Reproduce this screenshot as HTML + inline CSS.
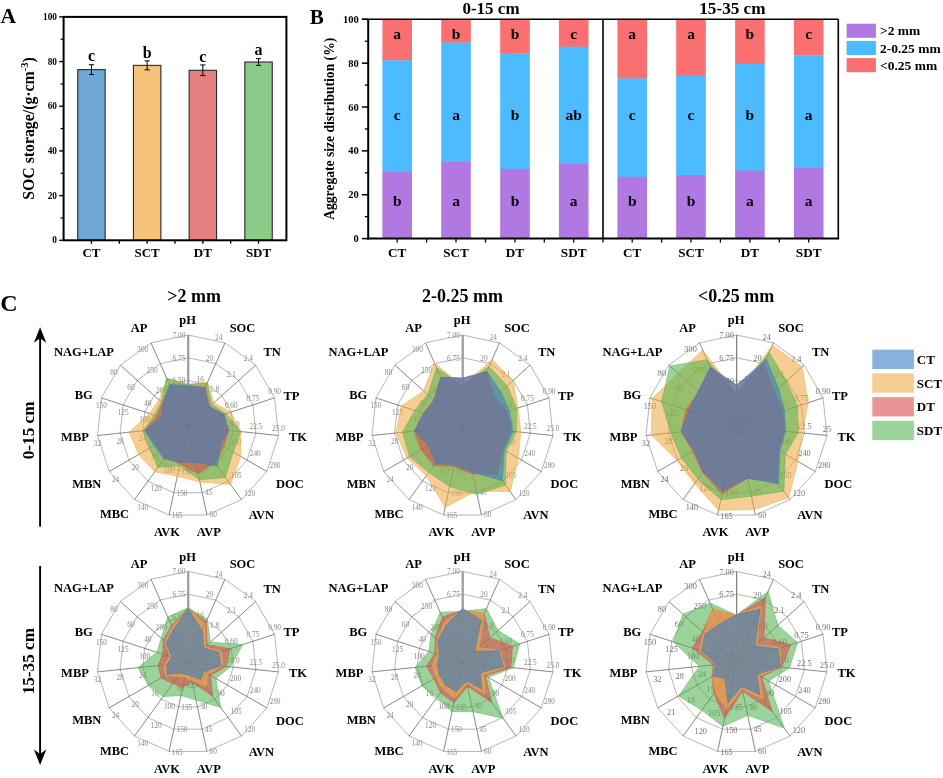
<!DOCTYPE html>
<html lang="en">
<head>
<meta charset="utf-8">
<title>Figure: SOC storage, aggregate size distribution and radar charts</title>
<style>
html,body{margin:0;padding:0;background:#fff;}
body{width:943px;height:778px;overflow:hidden;}
svg{display:block;font-family:"Liberation Serif",serif;}
</style>
</head>
<body>
<svg width="943" height="778" viewBox="0 0 943 778">
<rect x="0" y="0" width="943" height="778" fill="#ffffff"/>
<text x="0.6" y="23.4" font-size="21.5" text-anchor="start" font-weight="bold" fill="#000">A</text>
<rect x="77.75" y="69.62" width="27.4" height="170.68" fill="#6fa8d6" stroke="#2a2a2a" stroke-width="1.1"/>
<line x1="91.45" y1="74.54" x2="91.45" y2="64.71" stroke="#000" stroke-width="1"/>
<line x1="88.85" y1="64.71" x2="94.05" y2="64.71" stroke="#000" stroke-width="1"/>
<line x1="88.85" y1="74.54" x2="94.05" y2="74.54" stroke="#000" stroke-width="1"/>
<text x="91.45" y="61.31" font-size="16" text-anchor="middle" font-weight="bold" fill="#000">c</text>
<text x="91.45" y="257.3" font-size="13" text-anchor="middle" font-weight="bold" fill="#000">CT</text>
<rect x="133.45" y="65.38" width="27.4" height="174.92" fill="#f5c27a" stroke="#2a2a2a" stroke-width="1.1"/>
<line x1="147.15" y1="69.85" x2="147.15" y2="60.91" stroke="#000" stroke-width="1"/>
<line x1="144.55" y1="60.91" x2="149.75" y2="60.91" stroke="#000" stroke-width="1"/>
<line x1="144.55" y1="69.85" x2="149.75" y2="69.85" stroke="#000" stroke-width="1"/>
<text x="147.15" y="57.51" font-size="16" text-anchor="middle" font-weight="bold" fill="#000">b</text>
<text x="147.15" y="257.3" font-size="13" text-anchor="middle" font-weight="bold" fill="#000">SCT</text>
<rect x="189.15" y="70.29" width="27.4" height="170.01" fill="#e58080" stroke="#2a2a2a" stroke-width="1.1"/>
<line x1="202.85" y1="75.65" x2="202.85" y2="64.93" stroke="#000" stroke-width="1"/>
<line x1="200.25" y1="64.93" x2="205.45" y2="64.93" stroke="#000" stroke-width="1"/>
<line x1="200.25" y1="75.65" x2="205.45" y2="75.65" stroke="#000" stroke-width="1"/>
<text x="202.85" y="61.53" font-size="16" text-anchor="middle" font-weight="bold" fill="#000">c</text>
<text x="202.85" y="257.3" font-size="13" text-anchor="middle" font-weight="bold" fill="#000">DT</text>
<rect x="244.85" y="62.03" width="27.4" height="178.27" fill="#8acb88" stroke="#2a2a2a" stroke-width="1.1"/>
<line x1="258.55" y1="65.38" x2="258.55" y2="58.68" stroke="#000" stroke-width="1"/>
<line x1="255.95" y1="58.68" x2="261.15" y2="58.68" stroke="#000" stroke-width="1"/>
<line x1="255.95" y1="65.38" x2="261.15" y2="65.38" stroke="#000" stroke-width="1"/>
<text x="258.55" y="55.28" font-size="16" text-anchor="middle" font-weight="bold" fill="#000">a</text>
<text x="258.55" y="257.3" font-size="13" text-anchor="middle" font-weight="bold" fill="#000">SDT</text>
<rect x="63.6" y="16.9" width="222.8" height="223.4" fill="none" stroke="#000" stroke-width="2"/>
<line x1="59.2" y1="240.3" x2="63.6" y2="240.3" stroke="#000" stroke-width="1.4"/>
<text x="57" y="243.4" font-size="9.3" text-anchor="end" font-weight="bold" fill="#000">0</text>
<line x1="60.6" y1="217.96" x2="63.6" y2="217.96" stroke="#000" stroke-width="1.2"/>
<line x1="59.2" y1="195.62" x2="63.6" y2="195.62" stroke="#000" stroke-width="1.4"/>
<text x="57" y="198.72" font-size="9.3" text-anchor="end" font-weight="bold" fill="#000">20</text>
<line x1="60.6" y1="173.28" x2="63.6" y2="173.28" stroke="#000" stroke-width="1.2"/>
<line x1="59.2" y1="150.94" x2="63.6" y2="150.94" stroke="#000" stroke-width="1.4"/>
<text x="57" y="154.04" font-size="9.3" text-anchor="end" font-weight="bold" fill="#000">40</text>
<line x1="60.6" y1="128.6" x2="63.6" y2="128.6" stroke="#000" stroke-width="1.2"/>
<line x1="59.2" y1="106.26" x2="63.6" y2="106.26" stroke="#000" stroke-width="1.4"/>
<text x="57" y="109.36" font-size="9.3" text-anchor="end" font-weight="bold" fill="#000">60</text>
<line x1="60.6" y1="83.92" x2="63.6" y2="83.92" stroke="#000" stroke-width="1.2"/>
<line x1="59.2" y1="61.58" x2="63.6" y2="61.58" stroke="#000" stroke-width="1.4"/>
<text x="57" y="64.68" font-size="9.3" text-anchor="end" font-weight="bold" fill="#000">80</text>
<line x1="60.6" y1="39.24" x2="63.6" y2="39.24" stroke="#000" stroke-width="1.2"/>
<line x1="59.2" y1="16.9" x2="63.6" y2="16.9" stroke="#000" stroke-width="1.4"/>
<text x="57" y="20" font-size="9.3" text-anchor="end" font-weight="bold" fill="#000">100</text>
<line x1="91.45" y1="240.3" x2="91.45" y2="243.8" stroke="#000" stroke-width="1.3"/>
<line x1="119.3" y1="240.3" x2="119.3" y2="243.8" stroke="#000" stroke-width="1.3"/>
<line x1="147.15" y1="240.3" x2="147.15" y2="243.8" stroke="#000" stroke-width="1.3"/>
<line x1="175" y1="240.3" x2="175" y2="243.8" stroke="#000" stroke-width="1.3"/>
<line x1="202.85" y1="240.3" x2="202.85" y2="243.8" stroke="#000" stroke-width="1.3"/>
<line x1="230.7" y1="240.3" x2="230.7" y2="243.8" stroke="#000" stroke-width="1.3"/>
<line x1="258.55" y1="240.3" x2="258.55" y2="243.8" stroke="#000" stroke-width="1.3"/>
<text transform="translate(33.8,128.5) rotate(-90)" font-size="15.8" text-anchor="middle" font-weight="bold">SOC storage/(g·cm<tspan font-size="10.5" dy="-6">-3</tspan><tspan dy="6">)</tspan></text>
<text x="309.8" y="24.2" font-size="21" text-anchor="start" font-weight="bold" fill="#000">B</text>
<rect x="382.4" y="19.3" width="29.6" height="41.31" fill="#fa7070"/>
<rect x="382.4" y="60.31" width="29.6" height="111.92" fill="#4dbbff"/>
<rect x="382.4" y="171.93" width="29.6" height="66.67" fill="#b078e0"/>
<text x="397.2" y="38.7" font-size="15.5" text-anchor="middle" font-weight="bold" fill="#000">a</text>
<text x="397.2" y="119.8" font-size="15.5" text-anchor="middle" font-weight="bold" fill="#000">c</text>
<text x="397.2" y="206" font-size="15.5" text-anchor="middle" font-weight="bold" fill="#000">b</text>
<text x="397.2" y="257.2" font-size="13.2" text-anchor="middle" font-weight="bold" fill="#000">CT</text>
<rect x="441.2" y="19.3" width="29.6" height="23.55" fill="#fa7070"/>
<rect x="441.2" y="42.55" width="29.6" height="119.16" fill="#4dbbff"/>
<rect x="441.2" y="161.41" width="29.6" height="77.19" fill="#b078e0"/>
<text x="456" y="38.7" font-size="15.5" text-anchor="middle" font-weight="bold" fill="#000">b</text>
<text x="456" y="119.8" font-size="15.5" text-anchor="middle" font-weight="bold" fill="#000">a</text>
<text x="456" y="206" font-size="15.5" text-anchor="middle" font-weight="bold" fill="#000">a</text>
<text x="456" y="257.2" font-size="13.2" text-anchor="middle" font-weight="bold" fill="#000">SCT</text>
<rect x="500.2" y="19.3" width="29.6" height="34.51" fill="#fa7070"/>
<rect x="500.2" y="53.51" width="29.6" height="115.65" fill="#4dbbff"/>
<rect x="500.2" y="168.86" width="29.6" height="69.74" fill="#b078e0"/>
<text x="515" y="38.7" font-size="15.5" text-anchor="middle" font-weight="bold" fill="#000">b</text>
<text x="515" y="119.8" font-size="15.5" text-anchor="middle" font-weight="bold" fill="#000">b</text>
<text x="515" y="206" font-size="15.5" text-anchor="middle" font-weight="bold" fill="#000">b</text>
<text x="515" y="257.2" font-size="13.2" text-anchor="middle" font-weight="bold" fill="#000">DT</text>
<rect x="558.9" y="19.3" width="29.6" height="27.71" fill="#fa7070"/>
<rect x="558.9" y="46.71" width="29.6" height="117.19" fill="#4dbbff"/>
<rect x="558.9" y="163.6" width="29.6" height="75" fill="#b078e0"/>
<text x="573.7" y="38.7" font-size="15.5" text-anchor="middle" font-weight="bold" fill="#000">c</text>
<text x="573.7" y="119.8" font-size="15.5" text-anchor="middle" font-weight="bold" fill="#000">ab</text>
<text x="573.7" y="206" font-size="15.5" text-anchor="middle" font-weight="bold" fill="#000">a</text>
<text x="573.7" y="257.2" font-size="13.2" text-anchor="middle" font-weight="bold" fill="#000">SDT</text>
<rect x="617.4" y="19.3" width="29.6" height="59.51" fill="#fa7070"/>
<rect x="617.4" y="78.51" width="29.6" height="98.55" fill="#4dbbff"/>
<rect x="617.4" y="176.76" width="29.6" height="61.84" fill="#b078e0"/>
<text x="632.2" y="38.7" font-size="15.5" text-anchor="middle" font-weight="bold" fill="#000">a</text>
<text x="632.2" y="119.8" font-size="15.5" text-anchor="middle" font-weight="bold" fill="#000">c</text>
<text x="632.2" y="206" font-size="15.5" text-anchor="middle" font-weight="bold" fill="#000">b</text>
<text x="632.2" y="257.2" font-size="13.2" text-anchor="middle" font-weight="bold" fill="#000">CT</text>
<rect x="676.2" y="19.3" width="29.6" height="56.66" fill="#fa7070"/>
<rect x="676.2" y="75.66" width="29.6" height="99.64" fill="#4dbbff"/>
<rect x="676.2" y="175" width="29.6" height="63.6" fill="#b078e0"/>
<text x="691" y="38.7" font-size="15.5" text-anchor="middle" font-weight="bold" fill="#000">a</text>
<text x="691" y="119.8" font-size="15.5" text-anchor="middle" font-weight="bold" fill="#000">c</text>
<text x="691" y="206" font-size="15.5" text-anchor="middle" font-weight="bold" fill="#000">b</text>
<text x="691" y="257.2" font-size="13.2" text-anchor="middle" font-weight="bold" fill="#000">SCT</text>
<rect x="735.1" y="19.3" width="29.6" height="44.82" fill="#fa7070"/>
<rect x="735.1" y="63.82" width="29.6" height="107.1" fill="#4dbbff"/>
<rect x="735.1" y="170.62" width="29.6" height="67.98" fill="#b078e0"/>
<text x="749.9" y="38.7" font-size="15.5" text-anchor="middle" font-weight="bold" fill="#000">b</text>
<text x="749.9" y="119.8" font-size="15.5" text-anchor="middle" font-weight="bold" fill="#000">b</text>
<text x="749.9" y="206" font-size="15.5" text-anchor="middle" font-weight="bold" fill="#000">a</text>
<text x="749.9" y="257.2" font-size="13.2" text-anchor="middle" font-weight="bold" fill="#000">DT</text>
<rect x="793.9" y="19.3" width="29.6" height="36.27" fill="#fa7070"/>
<rect x="793.9" y="55.27" width="29.6" height="112.8" fill="#4dbbff"/>
<rect x="793.9" y="167.77" width="29.6" height="70.83" fill="#b078e0"/>
<text x="808.7" y="38.7" font-size="15.5" text-anchor="middle" font-weight="bold" fill="#000">c</text>
<text x="808.7" y="119.8" font-size="15.5" text-anchor="middle" font-weight="bold" fill="#000">a</text>
<text x="808.7" y="206" font-size="15.5" text-anchor="middle" font-weight="bold" fill="#000">a</text>
<text x="808.7" y="257.2" font-size="13.2" text-anchor="middle" font-weight="bold" fill="#000">SDT</text>
<line x1="368.2" y1="18.8" x2="368.2" y2="239.6" stroke="#000" stroke-width="2"/>
<line x1="367.2" y1="238.6" x2="839.1" y2="238.6" stroke="#000" stroke-width="2"/>
<line x1="361.9" y1="19.3" x2="838.3" y2="19.3" stroke="#000" stroke-width="1.5"/>
<line x1="838.3" y1="19.3" x2="838.3" y2="238.6" stroke="#000" stroke-width="1.6"/>
<line x1="603" y1="19.3" x2="603" y2="238.6" stroke="#000" stroke-width="1.6"/>
<line x1="361.9" y1="238.6" x2="368.2" y2="238.6" stroke="#000" stroke-width="1.5"/>
<text x="358.8" y="242.1" font-size="10.5" text-anchor="end" font-weight="bold" fill="#000">0</text>
<line x1="364.8" y1="216.67" x2="368.2" y2="216.67" stroke="#000" stroke-width="1.3"/>
<line x1="361.9" y1="194.74" x2="368.2" y2="194.74" stroke="#000" stroke-width="1.5"/>
<text x="358.8" y="198.24" font-size="10.5" text-anchor="end" font-weight="bold" fill="#000">20</text>
<line x1="364.8" y1="172.81" x2="368.2" y2="172.81" stroke="#000" stroke-width="1.3"/>
<line x1="361.9" y1="150.88" x2="368.2" y2="150.88" stroke="#000" stroke-width="1.5"/>
<text x="358.8" y="154.38" font-size="10.5" text-anchor="end" font-weight="bold" fill="#000">40</text>
<line x1="364.8" y1="128.95" x2="368.2" y2="128.95" stroke="#000" stroke-width="1.3"/>
<line x1="361.9" y1="107.02" x2="368.2" y2="107.02" stroke="#000" stroke-width="1.5"/>
<text x="358.8" y="110.52" font-size="10.5" text-anchor="end" font-weight="bold" fill="#000">60</text>
<line x1="364.8" y1="85.09" x2="368.2" y2="85.09" stroke="#000" stroke-width="1.3"/>
<line x1="361.9" y1="63.16" x2="368.2" y2="63.16" stroke="#000" stroke-width="1.5"/>
<text x="358.8" y="66.66" font-size="10.5" text-anchor="end" font-weight="bold" fill="#000">80</text>
<line x1="364.8" y1="41.23" x2="368.2" y2="41.23" stroke="#000" stroke-width="1.3"/>
<line x1="361.9" y1="19.3" x2="368.2" y2="19.3" stroke="#000" stroke-width="1.5"/>
<text x="358.8" y="22.8" font-size="10.5" text-anchor="end" font-weight="bold" fill="#000">100</text>
<line x1="397.2" y1="238.6" x2="397.2" y2="242.6" stroke="#000" stroke-width="1.3"/>
<line x1="456" y1="238.6" x2="456" y2="242.6" stroke="#000" stroke-width="1.3"/>
<line x1="515" y1="238.6" x2="515" y2="242.6" stroke="#000" stroke-width="1.3"/>
<line x1="573.7" y1="238.6" x2="573.7" y2="242.6" stroke="#000" stroke-width="1.3"/>
<line x1="632.2" y1="238.6" x2="632.2" y2="242.6" stroke="#000" stroke-width="1.3"/>
<line x1="691" y1="238.6" x2="691" y2="242.6" stroke="#000" stroke-width="1.3"/>
<line x1="749.9" y1="238.6" x2="749.9" y2="242.6" stroke="#000" stroke-width="1.3"/>
<line x1="808.7" y1="238.6" x2="808.7" y2="242.6" stroke="#000" stroke-width="1.3"/>
<line x1="426.6" y1="238.6" x2="426.6" y2="242.6" stroke="#000" stroke-width="1.3"/>
<line x1="485.5" y1="238.6" x2="485.5" y2="242.6" stroke="#000" stroke-width="1.3"/>
<line x1="544.3" y1="238.6" x2="544.3" y2="242.6" stroke="#000" stroke-width="1.3"/>
<line x1="603" y1="238.6" x2="603" y2="242.6" stroke="#000" stroke-width="1.3"/>
<line x1="661.6" y1="238.6" x2="661.6" y2="242.6" stroke="#000" stroke-width="1.3"/>
<line x1="720.4" y1="238.6" x2="720.4" y2="242.6" stroke="#000" stroke-width="1.3"/>
<line x1="779.3" y1="238.6" x2="779.3" y2="242.6" stroke="#000" stroke-width="1.3"/>
<text x="491" y="14.3" font-size="17" text-anchor="middle" font-weight="bold" fill="#000">0-15 cm</text>
<text x="732.4" y="14.3" font-size="17.2" text-anchor="middle" font-weight="bold" fill="#000">15-35 cm</text>
<text transform="translate(333.5,128.8) rotate(-90)" font-size="13.6" text-anchor="middle" font-weight="bold">Aggregate size distribution (%)</text>
<rect x="846.6" y="23.7" width="29.3" height="14.1" fill="#b078e0"/>
<text x="880" y="35.4" font-size="13.5" text-anchor="start" font-weight="bold" fill="#000">&gt;2 mm</text>
<rect x="846.6" y="40.9" width="29.3" height="14.1" fill="#4dbbff"/>
<text x="880" y="52.6" font-size="13.5" text-anchor="start" font-weight="bold" fill="#000">2-0.25 mm</text>
<rect x="846.6" y="58.1" width="29.3" height="14.1" fill="#fa7070"/>
<text x="880" y="69.8" font-size="13.5" text-anchor="start" font-weight="bold" fill="#000">&lt;0.25 mm</text>
<text x="0.2" y="310.9" font-size="24" text-anchor="start" font-weight="bold" fill="#000">C</text>
<line x1="40.1" y1="526.7" x2="40.1" y2="335.2" stroke="#000" stroke-width="1.9"/>
<path d="M40.1 327.2 L33.9 342.7 L40.1 338.2 L46.3 342.7 Z" fill="#000"/>
<line x1="40.1" y1="566" x2="40.1" y2="757" stroke="#000" stroke-width="1.9"/>
<path d="M40.1 765 L33.9 749.5 L40.1 754 L46.3 749.5 Z" fill="#000"/>
<text transform="translate(34.2,430.4) rotate(-90)" font-size="17.2" text-anchor="middle" font-weight="bold">0-15 cm</text>
<text transform="translate(34.2,661.2) rotate(-90)" font-size="17.2" text-anchor="middle" font-weight="bold">15-35 cm</text>
<text x="194" y="302.3" font-size="18" text-anchor="middle" font-weight="bold" fill="#000">&gt;2 mm</text>
<text x="462.5" y="302.3" font-size="18" text-anchor="middle" font-weight="bold" fill="#000">2-0.25 mm</text>
<text x="736.2" y="302.3" font-size="18" text-anchor="middle" font-weight="bold" fill="#000">&lt;0.25 mm</text>
<g>
<g opacity="1">
<polygon points="188,335 225.01,342.87 255.63,365.11 274.55,397.88 278.5,435.51 266.81,471.5 241.49,499.62 206.92,515.01 169.08,515.01 134.51,499.62 109.19,471.5 97.5,435.51 101.45,397.88 120.37,365.11 150.99,342.87" fill="none" stroke="#777" stroke-width="0.5"/>
<polygon points="188,357.75 215.76,363.65 238.72,380.33 252.91,404.91 255.88,433.13 247.11,460.12 228.12,481.22 202.19,492.76 173.81,492.76 147.88,481.22 128.89,460.12 120.12,433.13 123.09,404.91 137.28,380.33 160.24,363.65" fill="none" stroke="#777" stroke-width="0.5"/>
<polygon points="188,380.5 206.51,384.43 221.81,395.55 231.27,411.94 233.25,430.76 227.4,448.75 214.74,462.81 197.46,470.51 178.54,470.51 161.26,462.81 148.6,448.75 142.75,430.76 144.73,411.94 154.19,395.55 169.49,384.43" fill="none" stroke="#777" stroke-width="0.5"/>
<polygon points="188,403.25 197.25,405.22 204.91,410.78 209.64,418.97 210.63,428.38 207.7,437.38 201.37,444.41 192.73,448.25 183.27,448.25 174.63,444.41 168.3,437.38 165.37,428.38 166.36,418.97 171.09,410.78 178.75,405.22" fill="none" stroke="#777" stroke-width="0.5"/>
<line x1="188.2" y1="426" x2="188.2" y2="335" stroke="#9c9c9c" stroke-width="2.2"/>
<line x1="188" y1="426" x2="225.01" y2="342.87" stroke="#444" stroke-width="0.6"/>
<line x1="188" y1="426" x2="255.63" y2="365.11" stroke="#444" stroke-width="0.6"/>
<line x1="188" y1="426" x2="274.55" y2="397.88" stroke="#444" stroke-width="0.6"/>
<line x1="188" y1="426" x2="278.5" y2="435.51" stroke="#444" stroke-width="0.6"/>
<line x1="188" y1="426" x2="266.81" y2="471.5" stroke="#444" stroke-width="0.6"/>
<line x1="188" y1="426" x2="241.49" y2="499.62" stroke="#444" stroke-width="0.6"/>
<line x1="188" y1="426" x2="206.92" y2="515.01" stroke="#444" stroke-width="0.6"/>
<line x1="188" y1="426" x2="169.08" y2="515.01" stroke="#444" stroke-width="0.6"/>
<line x1="188" y1="426" x2="134.51" y2="499.62" stroke="#444" stroke-width="0.6"/>
<line x1="188" y1="426" x2="109.19" y2="471.5" stroke="#444" stroke-width="0.6"/>
<line x1="188" y1="426" x2="97.5" y2="435.51" stroke="#444" stroke-width="0.6"/>
<line x1="188" y1="426" x2="101.45" y2="397.88" stroke="#444" stroke-width="0.6"/>
<line x1="188" y1="426" x2="120.37" y2="365.11" stroke="#444" stroke-width="0.6"/>
<line x1="188" y1="426" x2="150.99" y2="342.87" stroke="#444" stroke-width="0.6"/>
<text x="178.91" y="337.77" font-size="7.3" text-anchor="middle" font-weight="normal" fill="#8a8a8a">7.00</text>
<text x="178.91" y="360.52" font-size="7.3" text-anchor="middle" font-weight="normal" fill="#8a8a8a">6.75</text>
<text x="178.91" y="383.27" font-size="7.3" text-anchor="middle" font-weight="normal" fill="#8a8a8a">6.50</text>
<text x="178.91" y="406.02" font-size="7.3" text-anchor="middle" font-weight="normal" fill="#8a8a8a">6.25</text>
<text x="178.91" y="428.77" font-size="7.3" text-anchor="middle" font-weight="normal" fill="#8a8a8a">6.00</text>
<text x="218.66" y="340.13" font-size="7.3" text-anchor="middle" font-weight="normal" fill="#8a8a8a">24</text>
<text x="209.41" y="360.91" font-size="7.3" text-anchor="middle" font-weight="normal" fill="#8a8a8a">20</text>
<text x="200.16" y="381.7" font-size="7.3" text-anchor="middle" font-weight="normal" fill="#8a8a8a">16</text>
<text x="190.9" y="402.48" font-size="7.3" text-anchor="middle" font-weight="normal" fill="#8a8a8a">12</text>
<text x="183.47" y="423.26" font-size="7.3" text-anchor="middle" font-weight="normal" fill="#8a8a8a">8</text>
<text x="248.36" y="361.32" font-size="7.3" text-anchor="middle" font-weight="normal" fill="#8a8a8a">2.4</text>
<text x="231.46" y="376.54" font-size="7.3" text-anchor="middle" font-weight="normal" fill="#8a8a8a">2.1</text>
<text x="214.55" y="391.76" font-size="7.3" text-anchor="middle" font-weight="normal" fill="#8a8a8a">1.8</text>
<text x="197.64" y="406.98" font-size="7.3" text-anchor="middle" font-weight="normal" fill="#8a8a8a">1.5</text>
<text x="180.74" y="422.21" font-size="7.3" text-anchor="middle" font-weight="normal" fill="#8a8a8a">1.2</text>
<text x="274.55" y="393.75" font-size="7.3" text-anchor="middle" font-weight="normal" fill="#8a8a8a">0.90</text>
<text x="252.91" y="400.78" font-size="7.3" text-anchor="middle" font-weight="normal" fill="#8a8a8a">0.75</text>
<text x="231.27" y="407.81" font-size="7.3" text-anchor="middle" font-weight="normal" fill="#8a8a8a">0.60</text>
<text x="209.64" y="414.84" font-size="7.3" text-anchor="middle" font-weight="normal" fill="#8a8a8a">0.45</text>
<text x="188" y="421.87" font-size="7.3" text-anchor="middle" font-weight="normal" fill="#8a8a8a">0.30</text>
<text x="278.5" y="431.38" font-size="7.3" text-anchor="middle" font-weight="normal" fill="#8a8a8a">25.0</text>
<text x="255.88" y="429" font-size="7.3" text-anchor="middle" font-weight="normal" fill="#8a8a8a">22.5</text>
<text x="233.25" y="426.62" font-size="7.3" text-anchor="middle" font-weight="normal" fill="#8a8a8a">20.0</text>
<text x="210.63" y="424.25" font-size="7.3" text-anchor="middle" font-weight="normal" fill="#8a8a8a">17.5</text>
<text x="188" y="421.87" font-size="7.3" text-anchor="middle" font-weight="normal" fill="#8a8a8a">15.0</text>
<text x="274.98" y="467.51" font-size="7.3" text-anchor="middle" font-weight="normal" fill="#8a8a8a">280</text>
<text x="255.28" y="456.14" font-size="7.3" text-anchor="middle" font-weight="normal" fill="#8a8a8a">240</text>
<text x="235.58" y="444.76" font-size="7.3" text-anchor="middle" font-weight="normal" fill="#8a8a8a">200</text>
<text x="215.88" y="433.39" font-size="7.3" text-anchor="middle" font-weight="normal" fill="#8a8a8a">160</text>
<text x="196.17" y="422.01" font-size="7.3" text-anchor="middle" font-weight="normal" fill="#8a8a8a">120</text>
<text x="249.66" y="496.05" font-size="7.3" text-anchor="middle" font-weight="normal" fill="#8a8a8a">120</text>
<text x="236.29" y="477.64" font-size="7.3" text-anchor="middle" font-weight="normal" fill="#8a8a8a">105</text>
<text x="221.09" y="459.24" font-size="7.3" text-anchor="middle" font-weight="normal" fill="#8a8a8a">90</text>
<text x="207.72" y="440.83" font-size="7.3" text-anchor="middle" font-weight="normal" fill="#8a8a8a">75</text>
<text x="194.35" y="422.43" font-size="7.3" text-anchor="middle" font-weight="normal" fill="#8a8a8a">60</text>
<text x="213.27" y="517.37" font-size="7.3" text-anchor="middle" font-weight="normal" fill="#8a8a8a">60</text>
<text x="208.54" y="495.12" font-size="7.3" text-anchor="middle" font-weight="normal" fill="#8a8a8a">45</text>
<text x="203.81" y="472.86" font-size="7.3" text-anchor="middle" font-weight="normal" fill="#8a8a8a">30</text>
<text x="199.08" y="450.61" font-size="7.3" text-anchor="middle" font-weight="normal" fill="#8a8a8a">15</text>
<text x="192.53" y="428.36" font-size="7.3" text-anchor="middle" font-weight="normal" fill="#8a8a8a">0</text>
<text x="177.26" y="518.24" font-size="7.3" text-anchor="middle" font-weight="normal" fill="#8a8a8a">165</text>
<text x="181.99" y="495.99" font-size="7.3" text-anchor="middle" font-weight="normal" fill="#8a8a8a">150</text>
<text x="186.72" y="473.73" font-size="7.3" text-anchor="middle" font-weight="normal" fill="#8a8a8a">135</text>
<text x="191.45" y="451.48" font-size="7.3" text-anchor="middle" font-weight="normal" fill="#8a8a8a">120</text>
<text x="196.18" y="429.23" font-size="7.3" text-anchor="middle" font-weight="normal" fill="#8a8a8a">105</text>
<text x="142.69" y="509.51" font-size="7.3" text-anchor="middle" font-weight="normal" fill="#8a8a8a">140</text>
<text x="156.06" y="491.1" font-size="7.3" text-anchor="middle" font-weight="normal" fill="#8a8a8a">120</text>
<text x="169.43" y="472.7" font-size="7.3" text-anchor="middle" font-weight="normal" fill="#8a8a8a">100</text>
<text x="180.98" y="454.29" font-size="7.3" text-anchor="middle" font-weight="normal" fill="#8a8a8a">80</text>
<text x="194.35" y="435.89" font-size="7.3" text-anchor="middle" font-weight="normal" fill="#8a8a8a">60</text>
<text x="115.54" y="481.86" font-size="7.3" text-anchor="middle" font-weight="normal" fill="#8a8a8a">24</text>
<text x="135.24" y="470.48" font-size="7.3" text-anchor="middle" font-weight="normal" fill="#8a8a8a">20</text>
<text x="154.95" y="459.11" font-size="7.3" text-anchor="middle" font-weight="normal" fill="#8a8a8a">16</text>
<text x="174.65" y="447.73" font-size="7.3" text-anchor="middle" font-weight="normal" fill="#8a8a8a">12</text>
<text x="192.53" y="436.36" font-size="7.3" text-anchor="middle" font-weight="normal" fill="#8a8a8a">8</text>
<text x="97.5" y="446.03" font-size="7.3" text-anchor="middle" font-weight="normal" fill="#8a8a8a">32</text>
<text x="120.12" y="443.65" font-size="7.3" text-anchor="middle" font-weight="normal" fill="#8a8a8a">28</text>
<text x="142.75" y="441.27" font-size="7.3" text-anchor="middle" font-weight="normal" fill="#8a8a8a">24</text>
<text x="165.37" y="438.9" font-size="7.3" text-anchor="middle" font-weight="normal" fill="#8a8a8a">20</text>
<text x="188" y="436.52" font-size="7.3" text-anchor="middle" font-weight="normal" fill="#8a8a8a">16</text>
<text x="101.45" y="408.4" font-size="7.3" text-anchor="middle" font-weight="normal" fill="#8a8a8a">150</text>
<text x="123.09" y="415.43" font-size="7.3" text-anchor="middle" font-weight="normal" fill="#8a8a8a">125</text>
<text x="144.73" y="422.46" font-size="7.3" text-anchor="middle" font-weight="normal" fill="#8a8a8a">100</text>
<text x="166.36" y="429.49" font-size="7.3" text-anchor="middle" font-weight="normal" fill="#8a8a8a">75</text>
<text x="188" y="436.52" font-size="7.3" text-anchor="middle" font-weight="normal" fill="#8a8a8a">50</text>
<text x="114.02" y="375.24" font-size="7.3" text-anchor="middle" font-weight="normal" fill="#8a8a8a">80</text>
<text x="130.93" y="390.47" font-size="7.3" text-anchor="middle" font-weight="normal" fill="#8a8a8a">60</text>
<text x="147.84" y="405.69" font-size="7.3" text-anchor="middle" font-weight="normal" fill="#8a8a8a">40</text>
<text x="164.74" y="420.91" font-size="7.3" text-anchor="middle" font-weight="normal" fill="#8a8a8a">20</text>
<text x="183.47" y="436.14" font-size="7.3" text-anchor="middle" font-weight="normal" fill="#8a8a8a">0</text>
<text x="142.81" y="351.82" font-size="7.3" text-anchor="middle" font-weight="normal" fill="#8a8a8a">300</text>
<text x="152.07" y="372.6" font-size="7.3" text-anchor="middle" font-weight="normal" fill="#8a8a8a">250</text>
<text x="161.32" y="393.38" font-size="7.3" text-anchor="middle" font-weight="normal" fill="#8a8a8a">200</text>
<text x="170.57" y="414.17" font-size="7.3" text-anchor="middle" font-weight="normal" fill="#8a8a8a">150</text>
<text x="179.82" y="434.95" font-size="7.3" text-anchor="middle" font-weight="normal" fill="#8a8a8a">100</text>
</g>
<polygon points="188,384.41 207.54,382.11 213.9,402.68 230.84,412.08 240.94,431.56 240.64,456.39 230.58,484.6 199.9,481.99 177.31,476.29 154.73,471.79 138.51,454.57 129.17,432.18 149.49,413.49 158.92,399.82 166.87,378.53" fill="#f0ac49" fill-opacity="0.6" stroke="#f0ac49" stroke-opacity="0.85" stroke-width="0.6" stroke-linejoin="round"/>
<polygon points="188,384.41 207.14,383.02 212.14,404.26 225.91,413.68 240.94,431.56 233.16,452.07 225.33,477.39 199.43,479.76 179.54,465.79 157.83,467.52 149.54,448.2 143.2,430.71 154.25,415.03 161.22,401.89 166.61,377.95" fill="#5ab657" fill-opacity="0.6" stroke="#5ab657" stroke-opacity="0.85" stroke-width="0.6" stroke-linejoin="round"/>
<polygon points="188,385.96 205.4,386.93 209.78,406.39 223.92,414.33 228.73,430.28 223.86,446.7 214.74,462.81 198.08,473.44 179.96,463.83 165,457.66 155.69,444.66 144.74,430.55 156.84,415.88 162.3,402.86 170.23,386.1" fill="#da4e4e" fill-opacity="0.6" stroke="#da4e4e" stroke-opacity="0.85" stroke-width="0.6" stroke-linejoin="round"/>
<polygon points="188,385.14 204.69,388.51 208.96,407.12 224.09,414.27 228.09,430.21 220.71,444.88 217.2,466.2 195.76,462.49 180.32,462.14 163.98,459.06 154.11,445.56 145.01,430.52 161.17,417.28 162.98,403.47 169.49,384.43" fill="#397ec3" fill-opacity="0.6" stroke="#397ec3" stroke-opacity="0.85" stroke-width="0.6" stroke-linejoin="round"/>
<g opacity="0.1">
<polygon points="188,335 225.01,342.87 255.63,365.11 274.55,397.88 278.5,435.51 266.81,471.5 241.49,499.62 206.92,515.01 169.08,515.01 134.51,499.62 109.19,471.5 97.5,435.51 101.45,397.88 120.37,365.11 150.99,342.87" fill="none" stroke="#777" stroke-width="0.5"/>
<polygon points="188,357.75 215.76,363.65 238.72,380.33 252.91,404.91 255.88,433.13 247.11,460.12 228.12,481.22 202.19,492.76 173.81,492.76 147.88,481.22 128.89,460.12 120.12,433.13 123.09,404.91 137.28,380.33 160.24,363.65" fill="none" stroke="#777" stroke-width="0.5"/>
<polygon points="188,380.5 206.51,384.43 221.81,395.55 231.27,411.94 233.25,430.76 227.4,448.75 214.74,462.81 197.46,470.51 178.54,470.51 161.26,462.81 148.6,448.75 142.75,430.76 144.73,411.94 154.19,395.55 169.49,384.43" fill="none" stroke="#777" stroke-width="0.5"/>
<polygon points="188,403.25 197.25,405.22 204.91,410.78 209.64,418.97 210.63,428.38 207.7,437.38 201.37,444.41 192.73,448.25 183.27,448.25 174.63,444.41 168.3,437.38 165.37,428.38 166.36,418.97 171.09,410.78 178.75,405.22" fill="none" stroke="#777" stroke-width="0.5"/>
<line x1="188.2" y1="426" x2="188.2" y2="335" stroke="#9c9c9c" stroke-width="2.2"/>
<line x1="188" y1="426" x2="225.01" y2="342.87" stroke="#444" stroke-width="0.6"/>
<line x1="188" y1="426" x2="255.63" y2="365.11" stroke="#444" stroke-width="0.6"/>
<line x1="188" y1="426" x2="274.55" y2="397.88" stroke="#444" stroke-width="0.6"/>
<line x1="188" y1="426" x2="278.5" y2="435.51" stroke="#444" stroke-width="0.6"/>
<line x1="188" y1="426" x2="266.81" y2="471.5" stroke="#444" stroke-width="0.6"/>
<line x1="188" y1="426" x2="241.49" y2="499.62" stroke="#444" stroke-width="0.6"/>
<line x1="188" y1="426" x2="206.92" y2="515.01" stroke="#444" stroke-width="0.6"/>
<line x1="188" y1="426" x2="169.08" y2="515.01" stroke="#444" stroke-width="0.6"/>
<line x1="188" y1="426" x2="134.51" y2="499.62" stroke="#444" stroke-width="0.6"/>
<line x1="188" y1="426" x2="109.19" y2="471.5" stroke="#444" stroke-width="0.6"/>
<line x1="188" y1="426" x2="97.5" y2="435.51" stroke="#444" stroke-width="0.6"/>
<line x1="188" y1="426" x2="101.45" y2="397.88" stroke="#444" stroke-width="0.6"/>
<line x1="188" y1="426" x2="120.37" y2="365.11" stroke="#444" stroke-width="0.6"/>
<line x1="188" y1="426" x2="150.99" y2="342.87" stroke="#444" stroke-width="0.6"/>
<text x="178.91" y="383.27" font-size="7.3" text-anchor="middle" font-weight="normal" fill="#8a8a8a">6.50</text>
<text x="178.91" y="406.02" font-size="7.3" text-anchor="middle" font-weight="normal" fill="#8a8a8a">6.25</text>
<text x="178.91" y="428.77" font-size="7.3" text-anchor="middle" font-weight="normal" fill="#8a8a8a">6.00</text>
<text x="200.16" y="381.7" font-size="7.3" text-anchor="middle" font-weight="normal" fill="#8a8a8a">16</text>
<text x="190.9" y="402.48" font-size="7.3" text-anchor="middle" font-weight="normal" fill="#8a8a8a">12</text>
<text x="183.47" y="423.26" font-size="7.3" text-anchor="middle" font-weight="normal" fill="#8a8a8a">8</text>
<text x="214.55" y="391.76" font-size="7.3" text-anchor="middle" font-weight="normal" fill="#8a8a8a">1.8</text>
<text x="197.64" y="406.98" font-size="7.3" text-anchor="middle" font-weight="normal" fill="#8a8a8a">1.5</text>
<text x="180.74" y="422.21" font-size="7.3" text-anchor="middle" font-weight="normal" fill="#8a8a8a">1.2</text>
<text x="231.27" y="407.81" font-size="7.3" text-anchor="middle" font-weight="normal" fill="#8a8a8a">0.60</text>
<text x="209.64" y="414.84" font-size="7.3" text-anchor="middle" font-weight="normal" fill="#8a8a8a">0.45</text>
<text x="188" y="421.87" font-size="7.3" text-anchor="middle" font-weight="normal" fill="#8a8a8a">0.30</text>
<text x="233.25" y="426.62" font-size="7.3" text-anchor="middle" font-weight="normal" fill="#8a8a8a">20.0</text>
<text x="210.63" y="424.25" font-size="7.3" text-anchor="middle" font-weight="normal" fill="#8a8a8a">17.5</text>
<text x="188" y="421.87" font-size="7.3" text-anchor="middle" font-weight="normal" fill="#8a8a8a">15.0</text>
<text x="235.58" y="444.76" font-size="7.3" text-anchor="middle" font-weight="normal" fill="#8a8a8a">200</text>
<text x="215.88" y="433.39" font-size="7.3" text-anchor="middle" font-weight="normal" fill="#8a8a8a">160</text>
<text x="196.17" y="422.01" font-size="7.3" text-anchor="middle" font-weight="normal" fill="#8a8a8a">120</text>
<text x="221.09" y="459.24" font-size="7.3" text-anchor="middle" font-weight="normal" fill="#8a8a8a">90</text>
<text x="207.72" y="440.83" font-size="7.3" text-anchor="middle" font-weight="normal" fill="#8a8a8a">75</text>
<text x="194.35" y="422.43" font-size="7.3" text-anchor="middle" font-weight="normal" fill="#8a8a8a">60</text>
<text x="203.81" y="472.86" font-size="7.3" text-anchor="middle" font-weight="normal" fill="#8a8a8a">30</text>
<text x="199.08" y="450.61" font-size="7.3" text-anchor="middle" font-weight="normal" fill="#8a8a8a">15</text>
<text x="192.53" y="428.36" font-size="7.3" text-anchor="middle" font-weight="normal" fill="#8a8a8a">0</text>
<text x="186.72" y="473.73" font-size="7.3" text-anchor="middle" font-weight="normal" fill="#8a8a8a">135</text>
<text x="191.45" y="451.48" font-size="7.3" text-anchor="middle" font-weight="normal" fill="#8a8a8a">120</text>
<text x="196.18" y="429.23" font-size="7.3" text-anchor="middle" font-weight="normal" fill="#8a8a8a">105</text>
<text x="169.43" y="472.7" font-size="7.3" text-anchor="middle" font-weight="normal" fill="#8a8a8a">100</text>
<text x="180.98" y="454.29" font-size="7.3" text-anchor="middle" font-weight="normal" fill="#8a8a8a">80</text>
<text x="194.35" y="435.89" font-size="7.3" text-anchor="middle" font-weight="normal" fill="#8a8a8a">60</text>
<text x="154.95" y="459.11" font-size="7.3" text-anchor="middle" font-weight="normal" fill="#8a8a8a">16</text>
<text x="174.65" y="447.73" font-size="7.3" text-anchor="middle" font-weight="normal" fill="#8a8a8a">12</text>
<text x="192.53" y="436.36" font-size="7.3" text-anchor="middle" font-weight="normal" fill="#8a8a8a">8</text>
<text x="142.75" y="441.27" font-size="7.3" text-anchor="middle" font-weight="normal" fill="#8a8a8a">24</text>
<text x="165.37" y="438.9" font-size="7.3" text-anchor="middle" font-weight="normal" fill="#8a8a8a">20</text>
<text x="188" y="436.52" font-size="7.3" text-anchor="middle" font-weight="normal" fill="#8a8a8a">16</text>
<text x="144.73" y="422.46" font-size="7.3" text-anchor="middle" font-weight="normal" fill="#8a8a8a">100</text>
<text x="166.36" y="429.49" font-size="7.3" text-anchor="middle" font-weight="normal" fill="#8a8a8a">75</text>
<text x="188" y="436.52" font-size="7.3" text-anchor="middle" font-weight="normal" fill="#8a8a8a">50</text>
<text x="147.84" y="405.69" font-size="7.3" text-anchor="middle" font-weight="normal" fill="#8a8a8a">40</text>
<text x="164.74" y="420.91" font-size="7.3" text-anchor="middle" font-weight="normal" fill="#8a8a8a">20</text>
<text x="183.47" y="436.14" font-size="7.3" text-anchor="middle" font-weight="normal" fill="#8a8a8a">0</text>
<text x="161.32" y="393.38" font-size="7.3" text-anchor="middle" font-weight="normal" fill="#8a8a8a">200</text>
<text x="170.57" y="414.17" font-size="7.3" text-anchor="middle" font-weight="normal" fill="#8a8a8a">150</text>
<text x="179.82" y="434.95" font-size="7.3" text-anchor="middle" font-weight="normal" fill="#8a8a8a">100</text>
</g>
<text x="187.7" y="324.1" font-size="12.5" text-anchor="middle" font-weight="bold" fill="#000">pH</text>
<text x="242.5" y="331.8" font-size="12.5" text-anchor="middle" font-weight="bold" fill="#000">SOC</text>
<text x="272.1" y="356.1" font-size="12.5" text-anchor="middle" font-weight="bold" fill="#000">TN</text>
<text x="291.4" y="399.5" font-size="12.5" text-anchor="middle" font-weight="bold" fill="#000">TP</text>
<text x="298" y="441" font-size="12.5" text-anchor="middle" font-weight="bold" fill="#000">TK</text>
<text x="289.8" y="488.4" font-size="12.5" text-anchor="middle" font-weight="bold" fill="#000">DOC</text>
<text x="261.4" y="519.3" font-size="12.5" text-anchor="middle" font-weight="bold" fill="#000">AVN</text>
<text x="208.9" y="536.3" font-size="12.5" text-anchor="middle" font-weight="bold" fill="#000">AVP</text>
<text x="167" y="536.3" font-size="12.5" text-anchor="middle" font-weight="bold" fill="#000">AVK</text>
<text x="114.5" y="518.4" font-size="12.5" text-anchor="middle" font-weight="bold" fill="#000">MBC</text>
<text x="86.8" y="487.6" font-size="12.5" text-anchor="middle" font-weight="bold" fill="#000">MBN</text>
<text x="75" y="440.8" font-size="12.5" text-anchor="middle" font-weight="bold" fill="#000">MBP</text>
<text x="83.8" y="399.3" font-size="12.5" text-anchor="middle" font-weight="bold" fill="#000">BG</text>
<text x="84" y="355.9" font-size="12.5" text-anchor="middle" font-weight="bold" fill="#000">NAG+LAP</text>
<text x="139" y="331.7" font-size="12.5" text-anchor="middle" font-weight="bold" fill="#000">AP</text>
</g>
<g>
<g opacity="1">
<polygon points="462.5,335 499.51,342.87 530.13,365.11 549.05,397.88 553,435.51 541.31,471.5 515.99,499.62 481.42,515.01 443.58,515.01 409.01,499.62 383.69,471.5 372,435.51 375.95,397.88 394.87,365.11 425.49,342.87" fill="none" stroke="#777" stroke-width="0.5"/>
<polygon points="462.5,357.75 490.26,363.65 513.22,380.33 527.41,404.91 530.38,433.13 521.61,460.12 502.62,481.22 476.69,492.76 448.31,492.76 422.38,481.22 403.39,460.12 394.62,433.13 397.59,404.91 411.78,380.33 434.74,363.65" fill="none" stroke="#777" stroke-width="0.5"/>
<polygon points="462.5,380.5 481.01,384.43 496.31,395.55 505.77,411.94 507.75,430.76 501.9,448.75 489.24,462.81 471.96,470.51 453.04,470.51 435.76,462.81 423.1,448.75 417.25,430.76 419.23,411.94 428.69,395.55 443.99,384.43" fill="none" stroke="#777" stroke-width="0.5"/>
<polygon points="462.5,403.25 471.75,405.22 479.41,410.78 484.14,418.97 485.13,428.38 482.2,437.38 475.87,444.41 467.23,448.25 457.77,448.25 449.13,444.41 442.8,437.38 439.87,428.38 440.86,418.97 445.59,410.78 453.25,405.22" fill="none" stroke="#777" stroke-width="0.5"/>
<line x1="462.7" y1="426" x2="462.7" y2="335" stroke="#9c9c9c" stroke-width="2.2"/>
<line x1="462.5" y1="426" x2="499.51" y2="342.87" stroke="#444" stroke-width="0.6"/>
<line x1="462.5" y1="426" x2="530.13" y2="365.11" stroke="#444" stroke-width="0.6"/>
<line x1="462.5" y1="426" x2="549.05" y2="397.88" stroke="#444" stroke-width="0.6"/>
<line x1="462.5" y1="426" x2="553" y2="435.51" stroke="#444" stroke-width="0.6"/>
<line x1="462.5" y1="426" x2="541.31" y2="471.5" stroke="#444" stroke-width="0.6"/>
<line x1="462.5" y1="426" x2="515.99" y2="499.62" stroke="#444" stroke-width="0.6"/>
<line x1="462.5" y1="426" x2="481.42" y2="515.01" stroke="#444" stroke-width="0.6"/>
<line x1="462.5" y1="426" x2="443.58" y2="515.01" stroke="#444" stroke-width="0.6"/>
<line x1="462.5" y1="426" x2="409.01" y2="499.62" stroke="#444" stroke-width="0.6"/>
<line x1="462.5" y1="426" x2="383.69" y2="471.5" stroke="#444" stroke-width="0.6"/>
<line x1="462.5" y1="426" x2="372" y2="435.51" stroke="#444" stroke-width="0.6"/>
<line x1="462.5" y1="426" x2="375.95" y2="397.88" stroke="#444" stroke-width="0.6"/>
<line x1="462.5" y1="426" x2="394.87" y2="365.11" stroke="#444" stroke-width="0.6"/>
<line x1="462.5" y1="426" x2="425.49" y2="342.87" stroke="#444" stroke-width="0.6"/>
<text x="453.41" y="337.77" font-size="7.3" text-anchor="middle" font-weight="normal" fill="#8a8a8a">7.00</text>
<text x="453.41" y="360.52" font-size="7.3" text-anchor="middle" font-weight="normal" fill="#8a8a8a">6.75</text>
<text x="453.41" y="383.27" font-size="7.3" text-anchor="middle" font-weight="normal" fill="#8a8a8a">6.50</text>
<text x="453.41" y="406.02" font-size="7.3" text-anchor="middle" font-weight="normal" fill="#8a8a8a">6.25</text>
<text x="453.41" y="428.77" font-size="7.3" text-anchor="middle" font-weight="normal" fill="#8a8a8a">6.00</text>
<text x="493.16" y="340.13" font-size="7.3" text-anchor="middle" font-weight="normal" fill="#8a8a8a">24</text>
<text x="483.91" y="360.91" font-size="7.3" text-anchor="middle" font-weight="normal" fill="#8a8a8a">20</text>
<text x="474.66" y="381.7" font-size="7.3" text-anchor="middle" font-weight="normal" fill="#8a8a8a">16</text>
<text x="465.4" y="402.48" font-size="7.3" text-anchor="middle" font-weight="normal" fill="#8a8a8a">12</text>
<text x="457.98" y="423.26" font-size="7.3" text-anchor="middle" font-weight="normal" fill="#8a8a8a">8</text>
<text x="522.86" y="361.32" font-size="7.3" text-anchor="middle" font-weight="normal" fill="#8a8a8a">2.4</text>
<text x="505.96" y="376.54" font-size="7.3" text-anchor="middle" font-weight="normal" fill="#8a8a8a">2.1</text>
<text x="489.05" y="391.76" font-size="7.3" text-anchor="middle" font-weight="normal" fill="#8a8a8a">1.8</text>
<text x="472.14" y="406.98" font-size="7.3" text-anchor="middle" font-weight="normal" fill="#8a8a8a">1.5</text>
<text x="455.24" y="422.21" font-size="7.3" text-anchor="middle" font-weight="normal" fill="#8a8a8a">1.2</text>
<text x="549.05" y="393.75" font-size="7.3" text-anchor="middle" font-weight="normal" fill="#8a8a8a">0.90</text>
<text x="527.41" y="400.78" font-size="7.3" text-anchor="middle" font-weight="normal" fill="#8a8a8a">0.75</text>
<text x="505.77" y="407.81" font-size="7.3" text-anchor="middle" font-weight="normal" fill="#8a8a8a">0.60</text>
<text x="484.14" y="414.84" font-size="7.3" text-anchor="middle" font-weight="normal" fill="#8a8a8a">0.45</text>
<text x="462.5" y="421.87" font-size="7.3" text-anchor="middle" font-weight="normal" fill="#8a8a8a">0.30</text>
<text x="553" y="431.38" font-size="7.3" text-anchor="middle" font-weight="normal" fill="#8a8a8a">25.0</text>
<text x="530.38" y="429" font-size="7.3" text-anchor="middle" font-weight="normal" fill="#8a8a8a">22.5</text>
<text x="507.75" y="426.62" font-size="7.3" text-anchor="middle" font-weight="normal" fill="#8a8a8a">20.0</text>
<text x="485.13" y="424.25" font-size="7.3" text-anchor="middle" font-weight="normal" fill="#8a8a8a">17.5</text>
<text x="462.5" y="421.87" font-size="7.3" text-anchor="middle" font-weight="normal" fill="#8a8a8a">15.0</text>
<text x="549.48" y="467.51" font-size="7.3" text-anchor="middle" font-weight="normal" fill="#8a8a8a">280</text>
<text x="529.78" y="456.14" font-size="7.3" text-anchor="middle" font-weight="normal" fill="#8a8a8a">240</text>
<text x="510.08" y="444.76" font-size="7.3" text-anchor="middle" font-weight="normal" fill="#8a8a8a">200</text>
<text x="490.38" y="433.39" font-size="7.3" text-anchor="middle" font-weight="normal" fill="#8a8a8a">160</text>
<text x="470.68" y="422.01" font-size="7.3" text-anchor="middle" font-weight="normal" fill="#8a8a8a">120</text>
<text x="524.16" y="496.05" font-size="7.3" text-anchor="middle" font-weight="normal" fill="#8a8a8a">120</text>
<text x="510.79" y="477.64" font-size="7.3" text-anchor="middle" font-weight="normal" fill="#8a8a8a">105</text>
<text x="495.59" y="459.24" font-size="7.3" text-anchor="middle" font-weight="normal" fill="#8a8a8a">90</text>
<text x="482.22" y="440.83" font-size="7.3" text-anchor="middle" font-weight="normal" fill="#8a8a8a">75</text>
<text x="468.85" y="422.43" font-size="7.3" text-anchor="middle" font-weight="normal" fill="#8a8a8a">60</text>
<text x="487.77" y="517.37" font-size="7.3" text-anchor="middle" font-weight="normal" fill="#8a8a8a">60</text>
<text x="483.04" y="495.12" font-size="7.3" text-anchor="middle" font-weight="normal" fill="#8a8a8a">45</text>
<text x="478.31" y="472.86" font-size="7.3" text-anchor="middle" font-weight="normal" fill="#8a8a8a">30</text>
<text x="473.58" y="450.61" font-size="7.3" text-anchor="middle" font-weight="normal" fill="#8a8a8a">15</text>
<text x="467.02" y="428.36" font-size="7.3" text-anchor="middle" font-weight="normal" fill="#8a8a8a">0</text>
<text x="451.76" y="518.24" font-size="7.3" text-anchor="middle" font-weight="normal" fill="#8a8a8a">165</text>
<text x="456.49" y="495.99" font-size="7.3" text-anchor="middle" font-weight="normal" fill="#8a8a8a">150</text>
<text x="461.22" y="473.73" font-size="7.3" text-anchor="middle" font-weight="normal" fill="#8a8a8a">135</text>
<text x="465.95" y="451.48" font-size="7.3" text-anchor="middle" font-weight="normal" fill="#8a8a8a">120</text>
<text x="470.68" y="429.23" font-size="7.3" text-anchor="middle" font-weight="normal" fill="#8a8a8a">105</text>
<text x="417.19" y="509.51" font-size="7.3" text-anchor="middle" font-weight="normal" fill="#8a8a8a">140</text>
<text x="430.56" y="491.1" font-size="7.3" text-anchor="middle" font-weight="normal" fill="#8a8a8a">120</text>
<text x="443.93" y="472.7" font-size="7.3" text-anchor="middle" font-weight="normal" fill="#8a8a8a">100</text>
<text x="455.48" y="454.29" font-size="7.3" text-anchor="middle" font-weight="normal" fill="#8a8a8a">80</text>
<text x="468.85" y="435.89" font-size="7.3" text-anchor="middle" font-weight="normal" fill="#8a8a8a">60</text>
<text x="390.04" y="481.86" font-size="7.3" text-anchor="middle" font-weight="normal" fill="#8a8a8a">24</text>
<text x="409.74" y="470.48" font-size="7.3" text-anchor="middle" font-weight="normal" fill="#8a8a8a">20</text>
<text x="429.45" y="459.11" font-size="7.3" text-anchor="middle" font-weight="normal" fill="#8a8a8a">16</text>
<text x="449.15" y="447.73" font-size="7.3" text-anchor="middle" font-weight="normal" fill="#8a8a8a">12</text>
<text x="467.02" y="436.36" font-size="7.3" text-anchor="middle" font-weight="normal" fill="#8a8a8a">8</text>
<text x="372" y="446.03" font-size="7.3" text-anchor="middle" font-weight="normal" fill="#8a8a8a">32</text>
<text x="394.62" y="443.65" font-size="7.3" text-anchor="middle" font-weight="normal" fill="#8a8a8a">28</text>
<text x="417.25" y="441.27" font-size="7.3" text-anchor="middle" font-weight="normal" fill="#8a8a8a">24</text>
<text x="439.87" y="438.9" font-size="7.3" text-anchor="middle" font-weight="normal" fill="#8a8a8a">20</text>
<text x="462.5" y="436.52" font-size="7.3" text-anchor="middle" font-weight="normal" fill="#8a8a8a">16</text>
<text x="375.95" y="408.4" font-size="7.3" text-anchor="middle" font-weight="normal" fill="#8a8a8a">150</text>
<text x="397.59" y="415.43" font-size="7.3" text-anchor="middle" font-weight="normal" fill="#8a8a8a">125</text>
<text x="419.23" y="422.46" font-size="7.3" text-anchor="middle" font-weight="normal" fill="#8a8a8a">100</text>
<text x="440.86" y="429.49" font-size="7.3" text-anchor="middle" font-weight="normal" fill="#8a8a8a">75</text>
<text x="462.5" y="436.52" font-size="7.3" text-anchor="middle" font-weight="normal" fill="#8a8a8a">50</text>
<text x="388.52" y="375.24" font-size="7.3" text-anchor="middle" font-weight="normal" fill="#8a8a8a">80</text>
<text x="405.43" y="390.47" font-size="7.3" text-anchor="middle" font-weight="normal" fill="#8a8a8a">60</text>
<text x="422.34" y="405.69" font-size="7.3" text-anchor="middle" font-weight="normal" fill="#8a8a8a">40</text>
<text x="439.24" y="420.91" font-size="7.3" text-anchor="middle" font-weight="normal" fill="#8a8a8a">20</text>
<text x="457.98" y="436.14" font-size="7.3" text-anchor="middle" font-weight="normal" fill="#8a8a8a">0</text>
<text x="417.31" y="351.82" font-size="7.3" text-anchor="middle" font-weight="normal" fill="#8a8a8a">300</text>
<text x="426.57" y="372.6" font-size="7.3" text-anchor="middle" font-weight="normal" fill="#8a8a8a">250</text>
<text x="435.82" y="393.38" font-size="7.3" text-anchor="middle" font-weight="normal" fill="#8a8a8a">200</text>
<text x="445.07" y="414.17" font-size="7.3" text-anchor="middle" font-weight="normal" fill="#8a8a8a">150</text>
<text x="454.32" y="434.95" font-size="7.3" text-anchor="middle" font-weight="normal" fill="#8a8a8a">100</text>
</g>
<polygon points="462.5,385.78 492.07,359.58 513.02,380.51 518.15,407.92 520.78,432.13 518.3,458.21 510.21,491.67 476.31,490.98 445.19,507.45 426.4,475.69 406.94,458.08 396.07,432.98 401.23,406.09 423.55,390.93 434.33,362.74" fill="#f0ac49" fill-opacity="0.6" stroke="#f0ac49" stroke-opacity="0.85" stroke-width="0.6" stroke-linejoin="round"/>
<polygon points="462.5,385.78 489,366.48 507.13,385.81 516.85,408.34 516.26,431.65 506.24,451.25 505.45,485.12 477.07,494.54 449.63,486.53 428.8,472.38 409.54,456.58 402.41,432.32 414.64,410.45 427.74,394.7 436.59,367.81" fill="#5ab657" fill-opacity="0.6" stroke="#5ab657" stroke-opacity="0.85" stroke-width="0.6" stroke-linejoin="round"/>
<polygon points="462.5,378.04 486.6,371.88 494.55,397.14 506.9,411.57 510.65,431.06 502.69,449.2 497.43,474.07 472.68,473.89 453.93,466.32 433.83,465.46 421.05,449.93 414.35,431.06 423.38,413.29 433.56,399.94 440.77,377.2" fill="#da4e4e" fill-opacity="0.6" stroke="#da4e4e" stroke-opacity="0.85" stroke-width="0.6" stroke-linejoin="round"/>
<polygon points="462.5,378.32 486.78,371.46 500.71,391.6 509.23,410.81 513,431.31 504.27,450.12 502.24,480.7 472.26,471.93 454.23,464.9 435.6,463.03 428.45,445.66 414.53,431.04 423.9,413.46 434.1,400.43 440.88,377.45" fill="#397ec3" fill-opacity="0.6" stroke="#397ec3" stroke-opacity="0.85" stroke-width="0.6" stroke-linejoin="round"/>
<g opacity="0.1">
<polygon points="462.5,335 499.51,342.87 530.13,365.11 549.05,397.88 553,435.51 541.31,471.5 515.99,499.62 481.42,515.01 443.58,515.01 409.01,499.62 383.69,471.5 372,435.51 375.95,397.88 394.87,365.11 425.49,342.87" fill="none" stroke="#777" stroke-width="0.5"/>
<polygon points="462.5,357.75 490.26,363.65 513.22,380.33 527.41,404.91 530.38,433.13 521.61,460.12 502.62,481.22 476.69,492.76 448.31,492.76 422.38,481.22 403.39,460.12 394.62,433.13 397.59,404.91 411.78,380.33 434.74,363.65" fill="none" stroke="#777" stroke-width="0.5"/>
<polygon points="462.5,380.5 481.01,384.43 496.31,395.55 505.77,411.94 507.75,430.76 501.9,448.75 489.24,462.81 471.96,470.51 453.04,470.51 435.76,462.81 423.1,448.75 417.25,430.76 419.23,411.94 428.69,395.55 443.99,384.43" fill="none" stroke="#777" stroke-width="0.5"/>
<polygon points="462.5,403.25 471.75,405.22 479.41,410.78 484.14,418.97 485.13,428.38 482.2,437.38 475.87,444.41 467.23,448.25 457.77,448.25 449.13,444.41 442.8,437.38 439.87,428.38 440.86,418.97 445.59,410.78 453.25,405.22" fill="none" stroke="#777" stroke-width="0.5"/>
<line x1="462.7" y1="426" x2="462.7" y2="335" stroke="#9c9c9c" stroke-width="2.2"/>
<line x1="462.5" y1="426" x2="499.51" y2="342.87" stroke="#444" stroke-width="0.6"/>
<line x1="462.5" y1="426" x2="530.13" y2="365.11" stroke="#444" stroke-width="0.6"/>
<line x1="462.5" y1="426" x2="549.05" y2="397.88" stroke="#444" stroke-width="0.6"/>
<line x1="462.5" y1="426" x2="553" y2="435.51" stroke="#444" stroke-width="0.6"/>
<line x1="462.5" y1="426" x2="541.31" y2="471.5" stroke="#444" stroke-width="0.6"/>
<line x1="462.5" y1="426" x2="515.99" y2="499.62" stroke="#444" stroke-width="0.6"/>
<line x1="462.5" y1="426" x2="481.42" y2="515.01" stroke="#444" stroke-width="0.6"/>
<line x1="462.5" y1="426" x2="443.58" y2="515.01" stroke="#444" stroke-width="0.6"/>
<line x1="462.5" y1="426" x2="409.01" y2="499.62" stroke="#444" stroke-width="0.6"/>
<line x1="462.5" y1="426" x2="383.69" y2="471.5" stroke="#444" stroke-width="0.6"/>
<line x1="462.5" y1="426" x2="372" y2="435.51" stroke="#444" stroke-width="0.6"/>
<line x1="462.5" y1="426" x2="375.95" y2="397.88" stroke="#444" stroke-width="0.6"/>
<line x1="462.5" y1="426" x2="394.87" y2="365.11" stroke="#444" stroke-width="0.6"/>
<line x1="462.5" y1="426" x2="425.49" y2="342.87" stroke="#444" stroke-width="0.6"/>
<text x="453.41" y="383.27" font-size="7.3" text-anchor="middle" font-weight="normal" fill="#8a8a8a">6.50</text>
<text x="453.41" y="406.02" font-size="7.3" text-anchor="middle" font-weight="normal" fill="#8a8a8a">6.25</text>
<text x="453.41" y="428.77" font-size="7.3" text-anchor="middle" font-weight="normal" fill="#8a8a8a">6.00</text>
<text x="474.66" y="381.7" font-size="7.3" text-anchor="middle" font-weight="normal" fill="#8a8a8a">16</text>
<text x="465.4" y="402.48" font-size="7.3" text-anchor="middle" font-weight="normal" fill="#8a8a8a">12</text>
<text x="457.98" y="423.26" font-size="7.3" text-anchor="middle" font-weight="normal" fill="#8a8a8a">8</text>
<text x="489.05" y="391.76" font-size="7.3" text-anchor="middle" font-weight="normal" fill="#8a8a8a">1.8</text>
<text x="472.14" y="406.98" font-size="7.3" text-anchor="middle" font-weight="normal" fill="#8a8a8a">1.5</text>
<text x="455.24" y="422.21" font-size="7.3" text-anchor="middle" font-weight="normal" fill="#8a8a8a">1.2</text>
<text x="505.77" y="407.81" font-size="7.3" text-anchor="middle" font-weight="normal" fill="#8a8a8a">0.60</text>
<text x="484.14" y="414.84" font-size="7.3" text-anchor="middle" font-weight="normal" fill="#8a8a8a">0.45</text>
<text x="462.5" y="421.87" font-size="7.3" text-anchor="middle" font-weight="normal" fill="#8a8a8a">0.30</text>
<text x="507.75" y="426.62" font-size="7.3" text-anchor="middle" font-weight="normal" fill="#8a8a8a">20.0</text>
<text x="485.13" y="424.25" font-size="7.3" text-anchor="middle" font-weight="normal" fill="#8a8a8a">17.5</text>
<text x="462.5" y="421.87" font-size="7.3" text-anchor="middle" font-weight="normal" fill="#8a8a8a">15.0</text>
<text x="510.08" y="444.76" font-size="7.3" text-anchor="middle" font-weight="normal" fill="#8a8a8a">200</text>
<text x="490.38" y="433.39" font-size="7.3" text-anchor="middle" font-weight="normal" fill="#8a8a8a">160</text>
<text x="470.68" y="422.01" font-size="7.3" text-anchor="middle" font-weight="normal" fill="#8a8a8a">120</text>
<text x="495.59" y="459.24" font-size="7.3" text-anchor="middle" font-weight="normal" fill="#8a8a8a">90</text>
<text x="482.22" y="440.83" font-size="7.3" text-anchor="middle" font-weight="normal" fill="#8a8a8a">75</text>
<text x="468.85" y="422.43" font-size="7.3" text-anchor="middle" font-weight="normal" fill="#8a8a8a">60</text>
<text x="478.31" y="472.86" font-size="7.3" text-anchor="middle" font-weight="normal" fill="#8a8a8a">30</text>
<text x="473.58" y="450.61" font-size="7.3" text-anchor="middle" font-weight="normal" fill="#8a8a8a">15</text>
<text x="467.02" y="428.36" font-size="7.3" text-anchor="middle" font-weight="normal" fill="#8a8a8a">0</text>
<text x="461.22" y="473.73" font-size="7.3" text-anchor="middle" font-weight="normal" fill="#8a8a8a">135</text>
<text x="465.95" y="451.48" font-size="7.3" text-anchor="middle" font-weight="normal" fill="#8a8a8a">120</text>
<text x="470.68" y="429.23" font-size="7.3" text-anchor="middle" font-weight="normal" fill="#8a8a8a">105</text>
<text x="443.93" y="472.7" font-size="7.3" text-anchor="middle" font-weight="normal" fill="#8a8a8a">100</text>
<text x="455.48" y="454.29" font-size="7.3" text-anchor="middle" font-weight="normal" fill="#8a8a8a">80</text>
<text x="468.85" y="435.89" font-size="7.3" text-anchor="middle" font-weight="normal" fill="#8a8a8a">60</text>
<text x="429.45" y="459.11" font-size="7.3" text-anchor="middle" font-weight="normal" fill="#8a8a8a">16</text>
<text x="449.15" y="447.73" font-size="7.3" text-anchor="middle" font-weight="normal" fill="#8a8a8a">12</text>
<text x="467.02" y="436.36" font-size="7.3" text-anchor="middle" font-weight="normal" fill="#8a8a8a">8</text>
<text x="417.25" y="441.27" font-size="7.3" text-anchor="middle" font-weight="normal" fill="#8a8a8a">24</text>
<text x="439.87" y="438.9" font-size="7.3" text-anchor="middle" font-weight="normal" fill="#8a8a8a">20</text>
<text x="462.5" y="436.52" font-size="7.3" text-anchor="middle" font-weight="normal" fill="#8a8a8a">16</text>
<text x="419.23" y="422.46" font-size="7.3" text-anchor="middle" font-weight="normal" fill="#8a8a8a">100</text>
<text x="440.86" y="429.49" font-size="7.3" text-anchor="middle" font-weight="normal" fill="#8a8a8a">75</text>
<text x="462.5" y="436.52" font-size="7.3" text-anchor="middle" font-weight="normal" fill="#8a8a8a">50</text>
<text x="422.34" y="405.69" font-size="7.3" text-anchor="middle" font-weight="normal" fill="#8a8a8a">40</text>
<text x="439.24" y="420.91" font-size="7.3" text-anchor="middle" font-weight="normal" fill="#8a8a8a">20</text>
<text x="457.98" y="436.14" font-size="7.3" text-anchor="middle" font-weight="normal" fill="#8a8a8a">0</text>
<text x="435.82" y="393.38" font-size="7.3" text-anchor="middle" font-weight="normal" fill="#8a8a8a">200</text>
<text x="445.07" y="414.17" font-size="7.3" text-anchor="middle" font-weight="normal" fill="#8a8a8a">150</text>
<text x="454.32" y="434.95" font-size="7.3" text-anchor="middle" font-weight="normal" fill="#8a8a8a">100</text>
</g>
<text x="462.2" y="324.1" font-size="12.5" text-anchor="middle" font-weight="bold" fill="#000">pH</text>
<text x="517" y="331.8" font-size="12.5" text-anchor="middle" font-weight="bold" fill="#000">SOC</text>
<text x="546.6" y="356.1" font-size="12.5" text-anchor="middle" font-weight="bold" fill="#000">TN</text>
<text x="565.9" y="399.5" font-size="12.5" text-anchor="middle" font-weight="bold" fill="#000">TP</text>
<text x="572.5" y="441" font-size="12.5" text-anchor="middle" font-weight="bold" fill="#000">TK</text>
<text x="564.3" y="488.4" font-size="12.5" text-anchor="middle" font-weight="bold" fill="#000">DOC</text>
<text x="535.9" y="519.3" font-size="12.5" text-anchor="middle" font-weight="bold" fill="#000">AVN</text>
<text x="483.4" y="536.3" font-size="12.5" text-anchor="middle" font-weight="bold" fill="#000">AVP</text>
<text x="441.5" y="536.3" font-size="12.5" text-anchor="middle" font-weight="bold" fill="#000">AVK</text>
<text x="389" y="518.4" font-size="12.5" text-anchor="middle" font-weight="bold" fill="#000">MBC</text>
<text x="361.3" y="487.6" font-size="12.5" text-anchor="middle" font-weight="bold" fill="#000">MBN</text>
<text x="349.5" y="440.8" font-size="12.5" text-anchor="middle" font-weight="bold" fill="#000">MBP</text>
<text x="358.3" y="399.3" font-size="12.5" text-anchor="middle" font-weight="bold" fill="#000">BG</text>
<text x="358.5" y="355.9" font-size="12.5" text-anchor="middle" font-weight="bold" fill="#000">NAG+LAP</text>
<text x="413.5" y="331.7" font-size="12.5" text-anchor="middle" font-weight="bold" fill="#000">AP</text>
</g>
<g>
<g opacity="1">
<polygon points="736.5,335 773.51,342.87 804.13,365.11 823.05,397.88 827,435.51 815.31,471.5 789.99,499.62 755.42,515.01 717.58,515.01 683.01,499.62 657.69,471.5 646,435.51 649.95,397.88 668.87,365.11 699.49,342.87" fill="none" stroke="#777" stroke-width="0.5"/>
<polygon points="736.5,357.75 764.26,363.65 787.22,380.33 801.41,404.91 804.38,433.13 795.61,460.12 776.62,481.22 750.69,492.76 722.31,492.76 696.38,481.22 677.39,460.12 668.62,433.13 671.59,404.91 685.78,380.33 708.74,363.65" fill="none" stroke="#777" stroke-width="0.5"/>
<polygon points="736.5,380.5 755.01,384.43 770.31,395.55 779.77,411.94 781.75,430.76 775.9,448.75 763.24,462.81 745.96,470.51 727.04,470.51 709.76,462.81 697.1,448.75 691.25,430.76 693.23,411.94 702.69,395.55 717.99,384.43" fill="none" stroke="#777" stroke-width="0.5"/>
<polygon points="736.5,403.25 745.75,405.22 753.41,410.78 758.14,418.97 759.13,428.38 756.2,437.38 749.87,444.41 741.23,448.25 731.77,448.25 723.13,444.41 716.8,437.38 713.87,428.38 714.86,418.97 719.59,410.78 727.25,405.22" fill="none" stroke="#777" stroke-width="0.5"/>
<line x1="736.6" y1="426" x2="736.6" y2="335" stroke="#7e7e7e" stroke-width="1.2"/>
<line x1="736.5" y1="426" x2="773.51" y2="342.87" stroke="#444" stroke-width="0.6"/>
<line x1="736.5" y1="426" x2="804.13" y2="365.11" stroke="#444" stroke-width="0.6"/>
<line x1="736.5" y1="426" x2="823.05" y2="397.88" stroke="#444" stroke-width="0.6"/>
<line x1="736.5" y1="426" x2="827" y2="435.51" stroke="#444" stroke-width="0.6"/>
<line x1="736.5" y1="426" x2="815.31" y2="471.5" stroke="#444" stroke-width="0.6"/>
<line x1="736.5" y1="426" x2="789.99" y2="499.62" stroke="#444" stroke-width="0.6"/>
<line x1="736.5" y1="426" x2="755.42" y2="515.01" stroke="#444" stroke-width="0.6"/>
<line x1="736.5" y1="426" x2="717.58" y2="515.01" stroke="#444" stroke-width="0.6"/>
<line x1="736.5" y1="426" x2="683.01" y2="499.62" stroke="#444" stroke-width="0.6"/>
<line x1="736.5" y1="426" x2="657.69" y2="471.5" stroke="#444" stroke-width="0.6"/>
<line x1="736.5" y1="426" x2="646" y2="435.51" stroke="#444" stroke-width="0.6"/>
<line x1="736.5" y1="426" x2="649.95" y2="397.88" stroke="#444" stroke-width="0.6"/>
<line x1="736.5" y1="426" x2="668.87" y2="365.11" stroke="#444" stroke-width="0.6"/>
<line x1="736.5" y1="426" x2="699.49" y2="342.87" stroke="#444" stroke-width="0.6"/>
<text x="726.54" y="338.11" font-size="8.3" text-anchor="middle" font-weight="normal" fill="#747474">7.00</text>
<text x="726.54" y="360.86" font-size="8.3" text-anchor="middle" font-weight="normal" fill="#747474">6.75</text>
<text x="726.54" y="383.61" font-size="8.3" text-anchor="middle" font-weight="normal" fill="#747474">6.50</text>
<text x="726.54" y="406.36" font-size="8.3" text-anchor="middle" font-weight="normal" fill="#747474">6.25</text>
<text x="726.54" y="429.11" font-size="8.3" text-anchor="middle" font-weight="normal" fill="#747474">6.00</text>
<text x="766.66" y="340.47" font-size="8.3" text-anchor="middle" font-weight="normal" fill="#747474">24</text>
<text x="757.41" y="361.25" font-size="8.3" text-anchor="middle" font-weight="normal" fill="#747474">20</text>
<text x="748.16" y="382.03" font-size="8.3" text-anchor="middle" font-weight="normal" fill="#747474">16</text>
<text x="738.9" y="402.82" font-size="8.3" text-anchor="middle" font-weight="normal" fill="#747474">12</text>
<text x="731.73" y="423.6" font-size="8.3" text-anchor="middle" font-weight="normal" fill="#747474">8</text>
<text x="796.24" y="361.65" font-size="8.3" text-anchor="middle" font-weight="normal" fill="#747474">2.4</text>
<text x="779.33" y="376.88" font-size="8.3" text-anchor="middle" font-weight="normal" fill="#747474">2.1</text>
<text x="762.43" y="392.1" font-size="8.3" text-anchor="middle" font-weight="normal" fill="#747474">1.8</text>
<text x="745.52" y="407.32" font-size="8.3" text-anchor="middle" font-weight="normal" fill="#747474">1.5</text>
<text x="728.61" y="422.55" font-size="8.3" text-anchor="middle" font-weight="normal" fill="#747474">1.2</text>
<text x="823.05" y="394.08" font-size="8.3" text-anchor="middle" font-weight="normal" fill="#747474">0.90</text>
<text x="801.41" y="401.11" font-size="8.3" text-anchor="middle" font-weight="normal" fill="#747474">0.75</text>
<text x="779.77" y="408.15" font-size="8.3" text-anchor="middle" font-weight="normal" fill="#747474">0.60</text>
<text x="758.14" y="415.18" font-size="8.3" text-anchor="middle" font-weight="normal" fill="#747474">0.45</text>
<text x="736.5" y="422.21" font-size="8.3" text-anchor="middle" font-weight="normal" fill="#747474">0.30</text>
<text x="827" y="431.72" font-size="8.3" text-anchor="middle" font-weight="normal" fill="#747474">25</text>
<text x="804.38" y="429.34" font-size="8.3" text-anchor="middle" font-weight="normal" fill="#747474">22.5</text>
<text x="781.75" y="426.96" font-size="8.3" text-anchor="middle" font-weight="normal" fill="#747474">20</text>
<text x="759.13" y="424.58" font-size="8.3" text-anchor="middle" font-weight="normal" fill="#747474">17.5</text>
<text x="736.5" y="422.21" font-size="8.3" text-anchor="middle" font-weight="normal" fill="#747474">15.0</text>
<text x="824.23" y="467.85" font-size="8.3" text-anchor="middle" font-weight="normal" fill="#747474">280</text>
<text x="804.53" y="456.47" font-size="8.3" text-anchor="middle" font-weight="normal" fill="#747474">240</text>
<text x="784.83" y="445.1" font-size="8.3" text-anchor="middle" font-weight="normal" fill="#747474">200</text>
<text x="765.13" y="433.72" font-size="8.3" text-anchor="middle" font-weight="normal" fill="#747474">160</text>
<text x="745.42" y="422.35" font-size="8.3" text-anchor="middle" font-weight="normal" fill="#747474">120</text>
<text x="798.91" y="496.39" font-size="8.3" text-anchor="middle" font-weight="normal" fill="#747474">120</text>
<text x="785.54" y="477.98" font-size="8.3" text-anchor="middle" font-weight="normal" fill="#747474">105</text>
<text x="770.09" y="459.58" font-size="8.3" text-anchor="middle" font-weight="normal" fill="#747474">90</text>
<text x="756.72" y="441.17" font-size="8.3" text-anchor="middle" font-weight="normal" fill="#747474">75</text>
<text x="743.35" y="422.77" font-size="8.3" text-anchor="middle" font-weight="normal" fill="#747474">60</text>
<text x="762.27" y="517.71" font-size="8.3" text-anchor="middle" font-weight="normal" fill="#747474">60</text>
<text x="757.54" y="495.45" font-size="8.3" text-anchor="middle" font-weight="normal" fill="#747474">45</text>
<text x="752.81" y="473.2" font-size="8.3" text-anchor="middle" font-weight="normal" fill="#747474">30</text>
<text x="748.08" y="450.95" font-size="8.3" text-anchor="middle" font-weight="normal" fill="#747474">15</text>
<text x="741.27" y="428.7" font-size="8.3" text-anchor="middle" font-weight="normal" fill="#747474">0</text>
<text x="726.51" y="518.58" font-size="8.3" text-anchor="middle" font-weight="normal" fill="#747474">165</text>
<text x="731.24" y="496.32" font-size="8.3" text-anchor="middle" font-weight="normal" fill="#747474">150</text>
<text x="735.97" y="474.07" font-size="8.3" text-anchor="middle" font-weight="normal" fill="#747474">135</text>
<text x="740.7" y="451.82" font-size="8.3" text-anchor="middle" font-weight="normal" fill="#747474">120</text>
<text x="745.42" y="429.57" font-size="8.3" text-anchor="middle" font-weight="normal" fill="#747474">105</text>
<text x="691.94" y="509.85" font-size="8.3" text-anchor="middle" font-weight="normal" fill="#747474">140</text>
<text x="705.31" y="491.44" font-size="8.3" text-anchor="middle" font-weight="normal" fill="#747474">120</text>
<text x="718.68" y="473.04" font-size="8.3" text-anchor="middle" font-weight="normal" fill="#747474">100</text>
<text x="729.98" y="454.63" font-size="8.3" text-anchor="middle" font-weight="normal" fill="#747474">80</text>
<text x="743.35" y="436.22" font-size="8.3" text-anchor="middle" font-weight="normal" fill="#747474">60</text>
<text x="664.54" y="482.19" font-size="8.3" text-anchor="middle" font-weight="normal" fill="#747474">24</text>
<text x="684.24" y="470.82" font-size="8.3" text-anchor="middle" font-weight="normal" fill="#747474">20</text>
<text x="703.95" y="459.44" font-size="8.3" text-anchor="middle" font-weight="normal" fill="#747474">16</text>
<text x="723.65" y="448.07" font-size="8.3" text-anchor="middle" font-weight="normal" fill="#747474">12</text>
<text x="741.27" y="436.69" font-size="8.3" text-anchor="middle" font-weight="normal" fill="#747474">8</text>
<text x="646" y="446.37" font-size="8.3" text-anchor="middle" font-weight="normal" fill="#747474">32</text>
<text x="668.62" y="443.99" font-size="8.3" text-anchor="middle" font-weight="normal" fill="#747474">28</text>
<text x="691.25" y="441.61" font-size="8.3" text-anchor="middle" font-weight="normal" fill="#747474">24</text>
<text x="713.87" y="439.23" font-size="8.3" text-anchor="middle" font-weight="normal" fill="#747474">20</text>
<text x="736.5" y="436.86" font-size="8.3" text-anchor="middle" font-weight="normal" fill="#747474">16</text>
<text x="649.95" y="408.73" font-size="8.3" text-anchor="middle" font-weight="normal" fill="#747474">150</text>
<text x="671.59" y="415.76" font-size="8.3" text-anchor="middle" font-weight="normal" fill="#747474">125</text>
<text x="693.23" y="422.8" font-size="8.3" text-anchor="middle" font-weight="normal" fill="#747474">100</text>
<text x="714.86" y="429.83" font-size="8.3" text-anchor="middle" font-weight="normal" fill="#747474">75</text>
<text x="736.5" y="436.86" font-size="8.3" text-anchor="middle" font-weight="normal" fill="#747474">50</text>
<text x="662.02" y="375.58" font-size="8.3" text-anchor="middle" font-weight="normal" fill="#747474">80</text>
<text x="678.93" y="390.81" font-size="8.3" text-anchor="middle" font-weight="normal" fill="#747474">60</text>
<text x="695.84" y="406.03" font-size="8.3" text-anchor="middle" font-weight="normal" fill="#747474">40</text>
<text x="712.74" y="421.25" font-size="8.3" text-anchor="middle" font-weight="normal" fill="#747474">20</text>
<text x="731.73" y="436.47" font-size="8.3" text-anchor="middle" font-weight="normal" fill="#747474">0</text>
<text x="690.56" y="352.16" font-size="8.3" text-anchor="middle" font-weight="normal" fill="#747474">300</text>
<text x="699.82" y="372.94" font-size="8.3" text-anchor="middle" font-weight="normal" fill="#747474">250</text>
<text x="709.07" y="393.72" font-size="8.3" text-anchor="middle" font-weight="normal" fill="#747474">200</text>
<text x="718.32" y="414.5" font-size="8.3" text-anchor="middle" font-weight="normal" fill="#747474">150</text>
<text x="727.58" y="435.29" font-size="8.3" text-anchor="middle" font-weight="normal" fill="#747474">100</text>
</g>
<polygon points="736.5,393.6 772.4,345.36 802.23,366.81 808.16,402.72 802.48,432.93 797.97,461.49 788.65,497.78 754.27,509.58 718.58,510.29 694.62,483.64 676.92,460.4 651.34,434.95 652.12,398.58 678,373.33 702.63,349.93" fill="#f0ac49" fill-opacity="0.6" stroke="#f0ac49" stroke-opacity="0.85" stroke-width="0.6" stroke-linejoin="round"/>
<polygon points="736.5,393.6 769.22,352.51 786.54,380.94 797.52,406.18 798.22,432.49 785.36,454.21 783.89,491.23 751.41,496.14 720.83,499.7 697.88,479.15 681.33,457.85 670.89,432.9 661.55,401.65 669.89,366.02 706.96,359.66" fill="#5ab657" fill-opacity="0.6" stroke="#5ab657" stroke-opacity="0.85" stroke-width="0.6" stroke-linejoin="round"/>
<polygon points="736.5,384.87 763.96,364.32 774.78,391.54 782.2,411.15 784.47,431.04 778.27,450.12 777.15,481.95 747.61,478.25 722.08,493.83 702.64,472.6 692.76,451.25 681.02,431.83 686.04,409.61 698.63,391.9 710.59,367.81" fill="#da4e4e" fill-opacity="0.6" stroke="#da4e4e" stroke-opacity="0.85" stroke-width="0.6" stroke-linejoin="round"/>
<polygon points="736.5,385.14 766.33,359 778.43,388.25 784.27,410.48 785.46,431.15 779.84,451.02 778.6,483.94 747.59,478.16 722.73,490.8 703.34,471.64 694.18,450.43 681.2,431.81 688.9,410.53 698.09,391.41 710.22,366.98" fill="#397ec3" fill-opacity="0.6" stroke="#397ec3" stroke-opacity="0.85" stroke-width="0.6" stroke-linejoin="round"/>
<g opacity="0.1">
<polygon points="736.5,335 773.51,342.87 804.13,365.11 823.05,397.88 827,435.51 815.31,471.5 789.99,499.62 755.42,515.01 717.58,515.01 683.01,499.62 657.69,471.5 646,435.51 649.95,397.88 668.87,365.11 699.49,342.87" fill="none" stroke="#777" stroke-width="0.5"/>
<polygon points="736.5,357.75 764.26,363.65 787.22,380.33 801.41,404.91 804.38,433.13 795.61,460.12 776.62,481.22 750.69,492.76 722.31,492.76 696.38,481.22 677.39,460.12 668.62,433.13 671.59,404.91 685.78,380.33 708.74,363.65" fill="none" stroke="#777" stroke-width="0.5"/>
<polygon points="736.5,380.5 755.01,384.43 770.31,395.55 779.77,411.94 781.75,430.76 775.9,448.75 763.24,462.81 745.96,470.51 727.04,470.51 709.76,462.81 697.1,448.75 691.25,430.76 693.23,411.94 702.69,395.55 717.99,384.43" fill="none" stroke="#777" stroke-width="0.5"/>
<polygon points="736.5,403.25 745.75,405.22 753.41,410.78 758.14,418.97 759.13,428.38 756.2,437.38 749.87,444.41 741.23,448.25 731.77,448.25 723.13,444.41 716.8,437.38 713.87,428.38 714.86,418.97 719.59,410.78 727.25,405.22" fill="none" stroke="#777" stroke-width="0.5"/>
<line x1="736.6" y1="426" x2="736.6" y2="335" stroke="#7e7e7e" stroke-width="1.2"/>
<line x1="736.5" y1="426" x2="773.51" y2="342.87" stroke="#444" stroke-width="0.6"/>
<line x1="736.5" y1="426" x2="804.13" y2="365.11" stroke="#444" stroke-width="0.6"/>
<line x1="736.5" y1="426" x2="823.05" y2="397.88" stroke="#444" stroke-width="0.6"/>
<line x1="736.5" y1="426" x2="827" y2="435.51" stroke="#444" stroke-width="0.6"/>
<line x1="736.5" y1="426" x2="815.31" y2="471.5" stroke="#444" stroke-width="0.6"/>
<line x1="736.5" y1="426" x2="789.99" y2="499.62" stroke="#444" stroke-width="0.6"/>
<line x1="736.5" y1="426" x2="755.42" y2="515.01" stroke="#444" stroke-width="0.6"/>
<line x1="736.5" y1="426" x2="717.58" y2="515.01" stroke="#444" stroke-width="0.6"/>
<line x1="736.5" y1="426" x2="683.01" y2="499.62" stroke="#444" stroke-width="0.6"/>
<line x1="736.5" y1="426" x2="657.69" y2="471.5" stroke="#444" stroke-width="0.6"/>
<line x1="736.5" y1="426" x2="646" y2="435.51" stroke="#444" stroke-width="0.6"/>
<line x1="736.5" y1="426" x2="649.95" y2="397.88" stroke="#444" stroke-width="0.6"/>
<line x1="736.5" y1="426" x2="668.87" y2="365.11" stroke="#444" stroke-width="0.6"/>
<line x1="736.5" y1="426" x2="699.49" y2="342.87" stroke="#444" stroke-width="0.6"/>
<text x="726.54" y="383.61" font-size="8.3" text-anchor="middle" font-weight="normal" fill="#747474">6.50</text>
<text x="726.54" y="406.36" font-size="8.3" text-anchor="middle" font-weight="normal" fill="#747474">6.25</text>
<text x="726.54" y="429.11" font-size="8.3" text-anchor="middle" font-weight="normal" fill="#747474">6.00</text>
<text x="748.16" y="382.03" font-size="8.3" text-anchor="middle" font-weight="normal" fill="#747474">16</text>
<text x="738.9" y="402.82" font-size="8.3" text-anchor="middle" font-weight="normal" fill="#747474">12</text>
<text x="731.73" y="423.6" font-size="8.3" text-anchor="middle" font-weight="normal" fill="#747474">8</text>
<text x="762.43" y="392.1" font-size="8.3" text-anchor="middle" font-weight="normal" fill="#747474">1.8</text>
<text x="745.52" y="407.32" font-size="8.3" text-anchor="middle" font-weight="normal" fill="#747474">1.5</text>
<text x="728.61" y="422.55" font-size="8.3" text-anchor="middle" font-weight="normal" fill="#747474">1.2</text>
<text x="779.77" y="408.15" font-size="8.3" text-anchor="middle" font-weight="normal" fill="#747474">0.60</text>
<text x="758.14" y="415.18" font-size="8.3" text-anchor="middle" font-weight="normal" fill="#747474">0.45</text>
<text x="736.5" y="422.21" font-size="8.3" text-anchor="middle" font-weight="normal" fill="#747474">0.30</text>
<text x="781.75" y="426.96" font-size="8.3" text-anchor="middle" font-weight="normal" fill="#747474">20</text>
<text x="759.13" y="424.58" font-size="8.3" text-anchor="middle" font-weight="normal" fill="#747474">17.5</text>
<text x="736.5" y="422.21" font-size="8.3" text-anchor="middle" font-weight="normal" fill="#747474">15.0</text>
<text x="784.83" y="445.1" font-size="8.3" text-anchor="middle" font-weight="normal" fill="#747474">200</text>
<text x="765.13" y="433.72" font-size="8.3" text-anchor="middle" font-weight="normal" fill="#747474">160</text>
<text x="745.42" y="422.35" font-size="8.3" text-anchor="middle" font-weight="normal" fill="#747474">120</text>
<text x="770.09" y="459.58" font-size="8.3" text-anchor="middle" font-weight="normal" fill="#747474">90</text>
<text x="756.72" y="441.17" font-size="8.3" text-anchor="middle" font-weight="normal" fill="#747474">75</text>
<text x="743.35" y="422.77" font-size="8.3" text-anchor="middle" font-weight="normal" fill="#747474">60</text>
<text x="752.81" y="473.2" font-size="8.3" text-anchor="middle" font-weight="normal" fill="#747474">30</text>
<text x="748.08" y="450.95" font-size="8.3" text-anchor="middle" font-weight="normal" fill="#747474">15</text>
<text x="741.27" y="428.7" font-size="8.3" text-anchor="middle" font-weight="normal" fill="#747474">0</text>
<text x="735.97" y="474.07" font-size="8.3" text-anchor="middle" font-weight="normal" fill="#747474">135</text>
<text x="740.7" y="451.82" font-size="8.3" text-anchor="middle" font-weight="normal" fill="#747474">120</text>
<text x="745.42" y="429.57" font-size="8.3" text-anchor="middle" font-weight="normal" fill="#747474">105</text>
<text x="718.68" y="473.04" font-size="8.3" text-anchor="middle" font-weight="normal" fill="#747474">100</text>
<text x="729.98" y="454.63" font-size="8.3" text-anchor="middle" font-weight="normal" fill="#747474">80</text>
<text x="743.35" y="436.22" font-size="8.3" text-anchor="middle" font-weight="normal" fill="#747474">60</text>
<text x="703.95" y="459.44" font-size="8.3" text-anchor="middle" font-weight="normal" fill="#747474">16</text>
<text x="723.65" y="448.07" font-size="8.3" text-anchor="middle" font-weight="normal" fill="#747474">12</text>
<text x="741.27" y="436.69" font-size="8.3" text-anchor="middle" font-weight="normal" fill="#747474">8</text>
<text x="691.25" y="441.61" font-size="8.3" text-anchor="middle" font-weight="normal" fill="#747474">24</text>
<text x="713.87" y="439.23" font-size="8.3" text-anchor="middle" font-weight="normal" fill="#747474">20</text>
<text x="736.5" y="436.86" font-size="8.3" text-anchor="middle" font-weight="normal" fill="#747474">16</text>
<text x="693.23" y="422.8" font-size="8.3" text-anchor="middle" font-weight="normal" fill="#747474">100</text>
<text x="714.86" y="429.83" font-size="8.3" text-anchor="middle" font-weight="normal" fill="#747474">75</text>
<text x="736.5" y="436.86" font-size="8.3" text-anchor="middle" font-weight="normal" fill="#747474">50</text>
<text x="695.84" y="406.03" font-size="8.3" text-anchor="middle" font-weight="normal" fill="#747474">40</text>
<text x="712.74" y="421.25" font-size="8.3" text-anchor="middle" font-weight="normal" fill="#747474">20</text>
<text x="731.73" y="436.47" font-size="8.3" text-anchor="middle" font-weight="normal" fill="#747474">0</text>
<text x="709.07" y="393.72" font-size="8.3" text-anchor="middle" font-weight="normal" fill="#747474">200</text>
<text x="718.32" y="414.5" font-size="8.3" text-anchor="middle" font-weight="normal" fill="#747474">150</text>
<text x="727.58" y="435.29" font-size="8.3" text-anchor="middle" font-weight="normal" fill="#747474">100</text>
</g>
<text x="736.2" y="324.1" font-size="12.5" text-anchor="middle" font-weight="bold" fill="#000">pH</text>
<text x="791" y="331.8" font-size="12.5" text-anchor="middle" font-weight="bold" fill="#000">SOC</text>
<text x="820.6" y="356.1" font-size="12.5" text-anchor="middle" font-weight="bold" fill="#000">TN</text>
<text x="839.9" y="399.5" font-size="12.5" text-anchor="middle" font-weight="bold" fill="#000">TP</text>
<text x="846.5" y="441" font-size="12.5" text-anchor="middle" font-weight="bold" fill="#000">TK</text>
<text x="838.3" y="488.4" font-size="12.5" text-anchor="middle" font-weight="bold" fill="#000">DOC</text>
<text x="809.9" y="519.3" font-size="12.5" text-anchor="middle" font-weight="bold" fill="#000">AVN</text>
<text x="757.4" y="536.3" font-size="12.5" text-anchor="middle" font-weight="bold" fill="#000">AVP</text>
<text x="715.5" y="536.3" font-size="12.5" text-anchor="middle" font-weight="bold" fill="#000">AVK</text>
<text x="663" y="518.4" font-size="12.5" text-anchor="middle" font-weight="bold" fill="#000">MBC</text>
<text x="635.3" y="487.6" font-size="12.5" text-anchor="middle" font-weight="bold" fill="#000">MBN</text>
<text x="623.5" y="440.8" font-size="12.5" text-anchor="middle" font-weight="bold" fill="#000">MBP</text>
<text x="632.3" y="399.3" font-size="12.5" text-anchor="middle" font-weight="bold" fill="#000">BG</text>
<text x="632.5" y="355.9" font-size="12.5" text-anchor="middle" font-weight="bold" fill="#000">NAG+LAP</text>
<text x="687.5" y="331.7" font-size="12.5" text-anchor="middle" font-weight="bold" fill="#000">AP</text>
</g>
<g>
<g opacity="1">
<polygon points="188,571.4 225.01,579.27 255.63,601.51 274.55,634.28 278.5,671.91 266.81,707.9 241.49,736.02 206.92,751.41 169.08,751.41 134.51,736.02 109.19,707.9 97.5,671.91 101.45,634.28 120.37,601.51 150.99,579.27" fill="none" stroke="#777" stroke-width="0.5"/>
<polygon points="188,594.15 215.76,600.05 238.72,616.73 252.91,641.31 255.88,669.53 247.11,696.52 228.12,717.62 202.19,729.16 173.81,729.16 147.88,717.62 128.89,696.52 120.12,669.53 123.09,641.31 137.28,616.73 160.24,600.05" fill="none" stroke="#777" stroke-width="0.5"/>
<polygon points="188,616.9 206.51,620.83 221.81,631.95 231.27,648.34 233.25,667.16 227.4,685.15 214.74,699.21 197.46,706.91 178.54,706.91 161.26,699.21 148.6,685.15 142.75,667.16 144.73,648.34 154.19,631.95 169.49,620.83" fill="none" stroke="#777" stroke-width="0.5"/>
<polygon points="188,639.65 197.25,641.62 204.91,647.18 209.64,655.37 210.63,664.78 207.7,673.77 201.37,680.81 192.73,684.65 183.27,684.65 174.63,680.81 168.3,673.77 165.37,664.78 166.36,655.37 171.09,647.18 178.75,641.62" fill="none" stroke="#777" stroke-width="0.5"/>
<line x1="188.2" y1="662.4" x2="188.2" y2="571.4" stroke="#9c9c9c" stroke-width="2.2"/>
<line x1="188" y1="662.4" x2="225.01" y2="579.27" stroke="#444" stroke-width="0.6"/>
<line x1="188" y1="662.4" x2="255.63" y2="601.51" stroke="#444" stroke-width="0.6"/>
<line x1="188" y1="662.4" x2="274.55" y2="634.28" stroke="#444" stroke-width="0.6"/>
<line x1="188" y1="662.4" x2="278.5" y2="671.91" stroke="#444" stroke-width="0.6"/>
<line x1="188" y1="662.4" x2="266.81" y2="707.9" stroke="#444" stroke-width="0.6"/>
<line x1="188" y1="662.4" x2="241.49" y2="736.02" stroke="#444" stroke-width="0.6"/>
<line x1="188" y1="662.4" x2="206.92" y2="751.41" stroke="#444" stroke-width="0.6"/>
<line x1="188" y1="662.4" x2="169.08" y2="751.41" stroke="#444" stroke-width="0.6"/>
<line x1="188" y1="662.4" x2="134.51" y2="736.02" stroke="#444" stroke-width="0.6"/>
<line x1="188" y1="662.4" x2="109.19" y2="707.9" stroke="#444" stroke-width="0.6"/>
<line x1="188" y1="662.4" x2="97.5" y2="671.91" stroke="#444" stroke-width="0.6"/>
<line x1="188" y1="662.4" x2="101.45" y2="634.28" stroke="#444" stroke-width="0.6"/>
<line x1="188" y1="662.4" x2="120.37" y2="601.51" stroke="#444" stroke-width="0.6"/>
<line x1="188" y1="662.4" x2="150.99" y2="579.27" stroke="#444" stroke-width="0.6"/>
<text x="178.91" y="574.17" font-size="7.3" text-anchor="middle" font-weight="normal" fill="#8a8a8a">7.00</text>
<text x="178.91" y="596.92" font-size="7.3" text-anchor="middle" font-weight="normal" fill="#8a8a8a">6.75</text>
<text x="178.91" y="619.67" font-size="7.3" text-anchor="middle" font-weight="normal" fill="#8a8a8a">6.50</text>
<text x="178.91" y="642.42" font-size="7.3" text-anchor="middle" font-weight="normal" fill="#8a8a8a">6.25</text>
<text x="178.91" y="665.17" font-size="7.3" text-anchor="middle" font-weight="normal" fill="#8a8a8a">6.00</text>
<text x="218.66" y="576.53" font-size="7.3" text-anchor="middle" font-weight="normal" fill="#8a8a8a">24</text>
<text x="209.41" y="597.31" font-size="7.3" text-anchor="middle" font-weight="normal" fill="#8a8a8a">20</text>
<text x="200.16" y="618.1" font-size="7.3" text-anchor="middle" font-weight="normal" fill="#8a8a8a">16</text>
<text x="190.9" y="638.88" font-size="7.3" text-anchor="middle" font-weight="normal" fill="#8a8a8a">12</text>
<text x="183.47" y="659.66" font-size="7.3" text-anchor="middle" font-weight="normal" fill="#8a8a8a">8</text>
<text x="248.36" y="597.72" font-size="7.3" text-anchor="middle" font-weight="normal" fill="#8a8a8a">2.4</text>
<text x="231.46" y="612.94" font-size="7.3" text-anchor="middle" font-weight="normal" fill="#8a8a8a">2.1</text>
<text x="214.55" y="628.16" font-size="7.3" text-anchor="middle" font-weight="normal" fill="#8a8a8a">1.8</text>
<text x="197.64" y="643.38" font-size="7.3" text-anchor="middle" font-weight="normal" fill="#8a8a8a">1.5</text>
<text x="180.74" y="658.61" font-size="7.3" text-anchor="middle" font-weight="normal" fill="#8a8a8a">1.2</text>
<text x="274.55" y="630.15" font-size="7.3" text-anchor="middle" font-weight="normal" fill="#8a8a8a">0.90</text>
<text x="252.91" y="637.18" font-size="7.3" text-anchor="middle" font-weight="normal" fill="#8a8a8a">0.75</text>
<text x="231.27" y="644.21" font-size="7.3" text-anchor="middle" font-weight="normal" fill="#8a8a8a">0.60</text>
<text x="209.64" y="651.24" font-size="7.3" text-anchor="middle" font-weight="normal" fill="#8a8a8a">0.45</text>
<text x="188" y="658.27" font-size="7.3" text-anchor="middle" font-weight="normal" fill="#8a8a8a">0.30</text>
<text x="278.5" y="667.78" font-size="7.3" text-anchor="middle" font-weight="normal" fill="#8a8a8a">25.0</text>
<text x="255.88" y="665.4" font-size="7.3" text-anchor="middle" font-weight="normal" fill="#8a8a8a">22.5</text>
<text x="233.25" y="663.02" font-size="7.3" text-anchor="middle" font-weight="normal" fill="#8a8a8a">20.0</text>
<text x="210.63" y="660.65" font-size="7.3" text-anchor="middle" font-weight="normal" fill="#8a8a8a">17.5</text>
<text x="188" y="658.27" font-size="7.3" text-anchor="middle" font-weight="normal" fill="#8a8a8a">15.0</text>
<text x="274.98" y="703.91" font-size="7.3" text-anchor="middle" font-weight="normal" fill="#8a8a8a">280</text>
<text x="255.28" y="692.54" font-size="7.3" text-anchor="middle" font-weight="normal" fill="#8a8a8a">240</text>
<text x="235.58" y="681.16" font-size="7.3" text-anchor="middle" font-weight="normal" fill="#8a8a8a">200</text>
<text x="215.88" y="669.79" font-size="7.3" text-anchor="middle" font-weight="normal" fill="#8a8a8a">160</text>
<text x="196.17" y="658.41" font-size="7.3" text-anchor="middle" font-weight="normal" fill="#8a8a8a">120</text>
<text x="249.66" y="732.45" font-size="7.3" text-anchor="middle" font-weight="normal" fill="#8a8a8a">120</text>
<text x="236.29" y="714.04" font-size="7.3" text-anchor="middle" font-weight="normal" fill="#8a8a8a">105</text>
<text x="221.09" y="695.64" font-size="7.3" text-anchor="middle" font-weight="normal" fill="#8a8a8a">90</text>
<text x="207.72" y="677.23" font-size="7.3" text-anchor="middle" font-weight="normal" fill="#8a8a8a">75</text>
<text x="194.35" y="658.83" font-size="7.3" text-anchor="middle" font-weight="normal" fill="#8a8a8a">60</text>
<text x="213.27" y="753.77" font-size="7.3" text-anchor="middle" font-weight="normal" fill="#8a8a8a">60</text>
<text x="208.54" y="731.52" font-size="7.3" text-anchor="middle" font-weight="normal" fill="#8a8a8a">45</text>
<text x="203.81" y="709.26" font-size="7.3" text-anchor="middle" font-weight="normal" fill="#8a8a8a">30</text>
<text x="199.08" y="687.01" font-size="7.3" text-anchor="middle" font-weight="normal" fill="#8a8a8a">15</text>
<text x="192.53" y="664.76" font-size="7.3" text-anchor="middle" font-weight="normal" fill="#8a8a8a">0</text>
<text x="177.26" y="754.64" font-size="7.3" text-anchor="middle" font-weight="normal" fill="#8a8a8a">165</text>
<text x="181.99" y="732.39" font-size="7.3" text-anchor="middle" font-weight="normal" fill="#8a8a8a">150</text>
<text x="186.72" y="710.13" font-size="7.3" text-anchor="middle" font-weight="normal" fill="#8a8a8a">135</text>
<text x="191.45" y="687.88" font-size="7.3" text-anchor="middle" font-weight="normal" fill="#8a8a8a">120</text>
<text x="196.18" y="665.63" font-size="7.3" text-anchor="middle" font-weight="normal" fill="#8a8a8a">105</text>
<text x="142.69" y="745.91" font-size="7.3" text-anchor="middle" font-weight="normal" fill="#8a8a8a">140</text>
<text x="156.06" y="727.5" font-size="7.3" text-anchor="middle" font-weight="normal" fill="#8a8a8a">120</text>
<text x="169.43" y="709.1" font-size="7.3" text-anchor="middle" font-weight="normal" fill="#8a8a8a">100</text>
<text x="180.98" y="690.69" font-size="7.3" text-anchor="middle" font-weight="normal" fill="#8a8a8a">80</text>
<text x="194.35" y="672.29" font-size="7.3" text-anchor="middle" font-weight="normal" fill="#8a8a8a">60</text>
<text x="115.54" y="718.26" font-size="7.3" text-anchor="middle" font-weight="normal" fill="#8a8a8a">24</text>
<text x="135.24" y="706.88" font-size="7.3" text-anchor="middle" font-weight="normal" fill="#8a8a8a">20</text>
<text x="154.95" y="695.51" font-size="7.3" text-anchor="middle" font-weight="normal" fill="#8a8a8a">16</text>
<text x="174.65" y="684.13" font-size="7.3" text-anchor="middle" font-weight="normal" fill="#8a8a8a">12</text>
<text x="192.53" y="672.76" font-size="7.3" text-anchor="middle" font-weight="normal" fill="#8a8a8a">8</text>
<text x="97.5" y="682.43" font-size="7.3" text-anchor="middle" font-weight="normal" fill="#8a8a8a">32</text>
<text x="120.12" y="680.05" font-size="7.3" text-anchor="middle" font-weight="normal" fill="#8a8a8a">28</text>
<text x="142.75" y="677.67" font-size="7.3" text-anchor="middle" font-weight="normal" fill="#8a8a8a">24</text>
<text x="165.37" y="675.3" font-size="7.3" text-anchor="middle" font-weight="normal" fill="#8a8a8a">20</text>
<text x="188" y="672.92" font-size="7.3" text-anchor="middle" font-weight="normal" fill="#8a8a8a">16</text>
<text x="101.45" y="644.8" font-size="7.3" text-anchor="middle" font-weight="normal" fill="#8a8a8a">150</text>
<text x="123.09" y="651.83" font-size="7.3" text-anchor="middle" font-weight="normal" fill="#8a8a8a">125</text>
<text x="144.73" y="658.86" font-size="7.3" text-anchor="middle" font-weight="normal" fill="#8a8a8a">100</text>
<text x="166.36" y="665.89" font-size="7.3" text-anchor="middle" font-weight="normal" fill="#8a8a8a">75</text>
<text x="188" y="672.92" font-size="7.3" text-anchor="middle" font-weight="normal" fill="#8a8a8a">50</text>
<text x="114.02" y="611.64" font-size="7.3" text-anchor="middle" font-weight="normal" fill="#8a8a8a">80</text>
<text x="130.93" y="626.87" font-size="7.3" text-anchor="middle" font-weight="normal" fill="#8a8a8a">60</text>
<text x="147.84" y="642.09" font-size="7.3" text-anchor="middle" font-weight="normal" fill="#8a8a8a">40</text>
<text x="164.74" y="657.31" font-size="7.3" text-anchor="middle" font-weight="normal" fill="#8a8a8a">20</text>
<text x="183.47" y="672.54" font-size="7.3" text-anchor="middle" font-weight="normal" fill="#8a8a8a">0</text>
<text x="142.81" y="588.22" font-size="7.3" text-anchor="middle" font-weight="normal" fill="#8a8a8a">300</text>
<text x="152.07" y="609" font-size="7.3" text-anchor="middle" font-weight="normal" fill="#8a8a8a">250</text>
<text x="161.32" y="629.78" font-size="7.3" text-anchor="middle" font-weight="normal" fill="#8a8a8a">200</text>
<text x="170.57" y="650.57" font-size="7.3" text-anchor="middle" font-weight="normal" fill="#8a8a8a">150</text>
<text x="179.82" y="671.35" font-size="7.3" text-anchor="middle" font-weight="normal" fill="#8a8a8a">100</text>
</g>
<polygon points="188,607.8 207.25,619.17 210.45,642.18 242.87,644.57 230.45,666.86 215.82,678.46 220.68,707.38 196,700.05 180.96,695.51 163.13,696.63 148.6,685.15 137.77,667.68 156.84,652.28 161.29,638.35 167.72,616.84" fill="#5ab657" fill-opacity="0.6" stroke="#5ab657" stroke-opacity="0.85" stroke-width="0.6" stroke-linejoin="round"/>
<polygon points="188,607.8 206.1,621.75 207.27,645.05 230.23,648.68 226.01,666.4 210.54,675.41 212.6,696.27 192.16,681.98 182.7,687.32 172.6,683.6 161.13,677.92 157.95,665.56 162.9,654.25 163.18,640.05 171.49,625.32" fill="#da4e4e" fill-opacity="0.6" stroke="#da4e4e" stroke-opacity="0.85" stroke-width="0.6" stroke-linejoin="round"/>
<polygon points="188,608.07 205.03,624.16 205.24,646.87 221.49,651.52 222.75,666.05 207.94,673.91 205.44,686.4 191.78,680.2 184.97,676.64 177.84,676.39 165.3,675.5 163.93,664.93 169.91,656.52 164.94,641.64 172.27,627.07" fill="#f0ac49" fill-opacity="0.6" stroke="#f0ac49" stroke-opacity="0.85" stroke-width="0.6" stroke-linejoin="round"/>
<polygon points="188,608.25 202.25,630.39 203.89,648.09 218.81,652.39 220.94,665.86 204.16,671.73 200.46,679.55 190.84,675.75 185.5,674.15 180.14,673.22 167.12,674.46 166.91,664.62 171.82,657.14 166.22,642.79 173.38,629.56" fill="#397ec3" fill-opacity="0.6" stroke="#397ec3" stroke-opacity="0.85" stroke-width="0.6" stroke-linejoin="round"/>
<g opacity="0.1">
<polygon points="188,571.4 225.01,579.27 255.63,601.51 274.55,634.28 278.5,671.91 266.81,707.9 241.49,736.02 206.92,751.41 169.08,751.41 134.51,736.02 109.19,707.9 97.5,671.91 101.45,634.28 120.37,601.51 150.99,579.27" fill="none" stroke="#777" stroke-width="0.5"/>
<polygon points="188,594.15 215.76,600.05 238.72,616.73 252.91,641.31 255.88,669.53 247.11,696.52 228.12,717.62 202.19,729.16 173.81,729.16 147.88,717.62 128.89,696.52 120.12,669.53 123.09,641.31 137.28,616.73 160.24,600.05" fill="none" stroke="#777" stroke-width="0.5"/>
<polygon points="188,616.9 206.51,620.83 221.81,631.95 231.27,648.34 233.25,667.16 227.4,685.15 214.74,699.21 197.46,706.91 178.54,706.91 161.26,699.21 148.6,685.15 142.75,667.16 144.73,648.34 154.19,631.95 169.49,620.83" fill="none" stroke="#777" stroke-width="0.5"/>
<polygon points="188,639.65 197.25,641.62 204.91,647.18 209.64,655.37 210.63,664.78 207.7,673.77 201.37,680.81 192.73,684.65 183.27,684.65 174.63,680.81 168.3,673.77 165.37,664.78 166.36,655.37 171.09,647.18 178.75,641.62" fill="none" stroke="#777" stroke-width="0.5"/>
<line x1="188.2" y1="662.4" x2="188.2" y2="571.4" stroke="#9c9c9c" stroke-width="2.2"/>
<line x1="188" y1="662.4" x2="225.01" y2="579.27" stroke="#444" stroke-width="0.6"/>
<line x1="188" y1="662.4" x2="255.63" y2="601.51" stroke="#444" stroke-width="0.6"/>
<line x1="188" y1="662.4" x2="274.55" y2="634.28" stroke="#444" stroke-width="0.6"/>
<line x1="188" y1="662.4" x2="278.5" y2="671.91" stroke="#444" stroke-width="0.6"/>
<line x1="188" y1="662.4" x2="266.81" y2="707.9" stroke="#444" stroke-width="0.6"/>
<line x1="188" y1="662.4" x2="241.49" y2="736.02" stroke="#444" stroke-width="0.6"/>
<line x1="188" y1="662.4" x2="206.92" y2="751.41" stroke="#444" stroke-width="0.6"/>
<line x1="188" y1="662.4" x2="169.08" y2="751.41" stroke="#444" stroke-width="0.6"/>
<line x1="188" y1="662.4" x2="134.51" y2="736.02" stroke="#444" stroke-width="0.6"/>
<line x1="188" y1="662.4" x2="109.19" y2="707.9" stroke="#444" stroke-width="0.6"/>
<line x1="188" y1="662.4" x2="97.5" y2="671.91" stroke="#444" stroke-width="0.6"/>
<line x1="188" y1="662.4" x2="101.45" y2="634.28" stroke="#444" stroke-width="0.6"/>
<line x1="188" y1="662.4" x2="120.37" y2="601.51" stroke="#444" stroke-width="0.6"/>
<line x1="188" y1="662.4" x2="150.99" y2="579.27" stroke="#444" stroke-width="0.6"/>
<text x="178.91" y="619.67" font-size="7.3" text-anchor="middle" font-weight="normal" fill="#8a8a8a">6.50</text>
<text x="178.91" y="642.42" font-size="7.3" text-anchor="middle" font-weight="normal" fill="#8a8a8a">6.25</text>
<text x="178.91" y="665.17" font-size="7.3" text-anchor="middle" font-weight="normal" fill="#8a8a8a">6.00</text>
<text x="200.16" y="618.1" font-size="7.3" text-anchor="middle" font-weight="normal" fill="#8a8a8a">16</text>
<text x="190.9" y="638.88" font-size="7.3" text-anchor="middle" font-weight="normal" fill="#8a8a8a">12</text>
<text x="183.47" y="659.66" font-size="7.3" text-anchor="middle" font-weight="normal" fill="#8a8a8a">8</text>
<text x="214.55" y="628.16" font-size="7.3" text-anchor="middle" font-weight="normal" fill="#8a8a8a">1.8</text>
<text x="197.64" y="643.38" font-size="7.3" text-anchor="middle" font-weight="normal" fill="#8a8a8a">1.5</text>
<text x="180.74" y="658.61" font-size="7.3" text-anchor="middle" font-weight="normal" fill="#8a8a8a">1.2</text>
<text x="231.27" y="644.21" font-size="7.3" text-anchor="middle" font-weight="normal" fill="#8a8a8a">0.60</text>
<text x="209.64" y="651.24" font-size="7.3" text-anchor="middle" font-weight="normal" fill="#8a8a8a">0.45</text>
<text x="188" y="658.27" font-size="7.3" text-anchor="middle" font-weight="normal" fill="#8a8a8a">0.30</text>
<text x="233.25" y="663.02" font-size="7.3" text-anchor="middle" font-weight="normal" fill="#8a8a8a">20.0</text>
<text x="210.63" y="660.65" font-size="7.3" text-anchor="middle" font-weight="normal" fill="#8a8a8a">17.5</text>
<text x="188" y="658.27" font-size="7.3" text-anchor="middle" font-weight="normal" fill="#8a8a8a">15.0</text>
<text x="235.58" y="681.16" font-size="7.3" text-anchor="middle" font-weight="normal" fill="#8a8a8a">200</text>
<text x="215.88" y="669.79" font-size="7.3" text-anchor="middle" font-weight="normal" fill="#8a8a8a">160</text>
<text x="196.17" y="658.41" font-size="7.3" text-anchor="middle" font-weight="normal" fill="#8a8a8a">120</text>
<text x="221.09" y="695.64" font-size="7.3" text-anchor="middle" font-weight="normal" fill="#8a8a8a">90</text>
<text x="207.72" y="677.23" font-size="7.3" text-anchor="middle" font-weight="normal" fill="#8a8a8a">75</text>
<text x="194.35" y="658.83" font-size="7.3" text-anchor="middle" font-weight="normal" fill="#8a8a8a">60</text>
<text x="203.81" y="709.26" font-size="7.3" text-anchor="middle" font-weight="normal" fill="#8a8a8a">30</text>
<text x="199.08" y="687.01" font-size="7.3" text-anchor="middle" font-weight="normal" fill="#8a8a8a">15</text>
<text x="192.53" y="664.76" font-size="7.3" text-anchor="middle" font-weight="normal" fill="#8a8a8a">0</text>
<text x="186.72" y="710.13" font-size="7.3" text-anchor="middle" font-weight="normal" fill="#8a8a8a">135</text>
<text x="191.45" y="687.88" font-size="7.3" text-anchor="middle" font-weight="normal" fill="#8a8a8a">120</text>
<text x="196.18" y="665.63" font-size="7.3" text-anchor="middle" font-weight="normal" fill="#8a8a8a">105</text>
<text x="169.43" y="709.1" font-size="7.3" text-anchor="middle" font-weight="normal" fill="#8a8a8a">100</text>
<text x="180.98" y="690.69" font-size="7.3" text-anchor="middle" font-weight="normal" fill="#8a8a8a">80</text>
<text x="194.35" y="672.29" font-size="7.3" text-anchor="middle" font-weight="normal" fill="#8a8a8a">60</text>
<text x="154.95" y="695.51" font-size="7.3" text-anchor="middle" font-weight="normal" fill="#8a8a8a">16</text>
<text x="174.65" y="684.13" font-size="7.3" text-anchor="middle" font-weight="normal" fill="#8a8a8a">12</text>
<text x="192.53" y="672.76" font-size="7.3" text-anchor="middle" font-weight="normal" fill="#8a8a8a">8</text>
<text x="142.75" y="677.67" font-size="7.3" text-anchor="middle" font-weight="normal" fill="#8a8a8a">24</text>
<text x="165.37" y="675.3" font-size="7.3" text-anchor="middle" font-weight="normal" fill="#8a8a8a">20</text>
<text x="188" y="672.92" font-size="7.3" text-anchor="middle" font-weight="normal" fill="#8a8a8a">16</text>
<text x="144.73" y="658.86" font-size="7.3" text-anchor="middle" font-weight="normal" fill="#8a8a8a">100</text>
<text x="166.36" y="665.89" font-size="7.3" text-anchor="middle" font-weight="normal" fill="#8a8a8a">75</text>
<text x="188" y="672.92" font-size="7.3" text-anchor="middle" font-weight="normal" fill="#8a8a8a">50</text>
<text x="147.84" y="642.09" font-size="7.3" text-anchor="middle" font-weight="normal" fill="#8a8a8a">40</text>
<text x="164.74" y="657.31" font-size="7.3" text-anchor="middle" font-weight="normal" fill="#8a8a8a">20</text>
<text x="183.47" y="672.54" font-size="7.3" text-anchor="middle" font-weight="normal" fill="#8a8a8a">0</text>
<text x="161.32" y="629.78" font-size="7.3" text-anchor="middle" font-weight="normal" fill="#8a8a8a">200</text>
<text x="170.57" y="650.57" font-size="7.3" text-anchor="middle" font-weight="normal" fill="#8a8a8a">150</text>
<text x="179.82" y="671.35" font-size="7.3" text-anchor="middle" font-weight="normal" fill="#8a8a8a">100</text>
</g>
<text x="187.7" y="560.5" font-size="12.5" text-anchor="middle" font-weight="bold" fill="#000">pH</text>
<text x="242.5" y="568.2" font-size="12.5" text-anchor="middle" font-weight="bold" fill="#000">SOC</text>
<text x="272.1" y="592.5" font-size="12.5" text-anchor="middle" font-weight="bold" fill="#000">TN</text>
<text x="291.4" y="635.9" font-size="12.5" text-anchor="middle" font-weight="bold" fill="#000">TP</text>
<text x="298" y="677.4" font-size="12.5" text-anchor="middle" font-weight="bold" fill="#000">TK</text>
<text x="289.8" y="724.8" font-size="12.5" text-anchor="middle" font-weight="bold" fill="#000">DOC</text>
<text x="261.4" y="755.7" font-size="12.5" text-anchor="middle" font-weight="bold" fill="#000">AVN</text>
<text x="208.9" y="772.7" font-size="12.5" text-anchor="middle" font-weight="bold" fill="#000">AVP</text>
<text x="167" y="772.7" font-size="12.5" text-anchor="middle" font-weight="bold" fill="#000">AVK</text>
<text x="114.5" y="754.8" font-size="12.5" text-anchor="middle" font-weight="bold" fill="#000">MBC</text>
<text x="86.8" y="724" font-size="12.5" text-anchor="middle" font-weight="bold" fill="#000">MBN</text>
<text x="75" y="677.2" font-size="12.5" text-anchor="middle" font-weight="bold" fill="#000">MBP</text>
<text x="83.8" y="635.7" font-size="12.5" text-anchor="middle" font-weight="bold" fill="#000">BG</text>
<text x="84" y="592.3" font-size="12.5" text-anchor="middle" font-weight="bold" fill="#000">NAG+LAP</text>
<text x="139" y="568.1" font-size="12.5" text-anchor="middle" font-weight="bold" fill="#000">AP</text>
</g>
<g>
<g opacity="1">
<polygon points="462.5,571.4 499.51,579.27 530.13,601.51 549.05,634.28 553,671.91 541.31,707.9 515.99,736.02 481.42,751.41 443.58,751.41 409.01,736.02 383.69,707.9 372,671.91 375.95,634.28 394.87,601.51 425.49,579.27" fill="none" stroke="#777" stroke-width="0.5"/>
<polygon points="462.5,594.15 490.26,600.05 513.22,616.73 527.41,641.31 530.38,669.53 521.61,696.52 502.62,717.62 476.69,729.16 448.31,729.16 422.38,717.62 403.39,696.52 394.62,669.53 397.59,641.31 411.78,616.73 434.74,600.05" fill="none" stroke="#777" stroke-width="0.5"/>
<polygon points="462.5,616.9 481.01,620.83 496.31,631.95 505.77,648.34 507.75,667.16 501.9,685.15 489.24,699.21 471.96,706.91 453.04,706.91 435.76,699.21 423.1,685.15 417.25,667.16 419.23,648.34 428.69,631.95 443.99,620.83" fill="none" stroke="#777" stroke-width="0.5"/>
<polygon points="462.5,639.65 471.75,641.62 479.41,647.18 484.14,655.37 485.13,664.78 482.2,673.77 475.87,680.81 467.23,684.65 457.77,684.65 449.13,680.81 442.8,673.77 439.87,664.78 440.86,655.37 445.59,647.18 453.25,641.62" fill="none" stroke="#777" stroke-width="0.5"/>
<line x1="462.7" y1="662.4" x2="462.7" y2="571.4" stroke="#9c9c9c" stroke-width="2.2"/>
<line x1="462.5" y1="662.4" x2="499.51" y2="579.27" stroke="#444" stroke-width="0.6"/>
<line x1="462.5" y1="662.4" x2="530.13" y2="601.51" stroke="#444" stroke-width="0.6"/>
<line x1="462.5" y1="662.4" x2="549.05" y2="634.28" stroke="#444" stroke-width="0.6"/>
<line x1="462.5" y1="662.4" x2="553" y2="671.91" stroke="#444" stroke-width="0.6"/>
<line x1="462.5" y1="662.4" x2="541.31" y2="707.9" stroke="#444" stroke-width="0.6"/>
<line x1="462.5" y1="662.4" x2="515.99" y2="736.02" stroke="#444" stroke-width="0.6"/>
<line x1="462.5" y1="662.4" x2="481.42" y2="751.41" stroke="#444" stroke-width="0.6"/>
<line x1="462.5" y1="662.4" x2="443.58" y2="751.41" stroke="#444" stroke-width="0.6"/>
<line x1="462.5" y1="662.4" x2="409.01" y2="736.02" stroke="#444" stroke-width="0.6"/>
<line x1="462.5" y1="662.4" x2="383.69" y2="707.9" stroke="#444" stroke-width="0.6"/>
<line x1="462.5" y1="662.4" x2="372" y2="671.91" stroke="#444" stroke-width="0.6"/>
<line x1="462.5" y1="662.4" x2="375.95" y2="634.28" stroke="#444" stroke-width="0.6"/>
<line x1="462.5" y1="662.4" x2="394.87" y2="601.51" stroke="#444" stroke-width="0.6"/>
<line x1="462.5" y1="662.4" x2="425.49" y2="579.27" stroke="#444" stroke-width="0.6"/>
<text x="453.41" y="574.17" font-size="7.3" text-anchor="middle" font-weight="normal" fill="#8a8a8a">7.00</text>
<text x="453.41" y="596.92" font-size="7.3" text-anchor="middle" font-weight="normal" fill="#8a8a8a">6.75</text>
<text x="453.41" y="619.67" font-size="7.3" text-anchor="middle" font-weight="normal" fill="#8a8a8a">6.50</text>
<text x="453.41" y="642.42" font-size="7.3" text-anchor="middle" font-weight="normal" fill="#8a8a8a">6.25</text>
<text x="453.41" y="665.17" font-size="7.3" text-anchor="middle" font-weight="normal" fill="#8a8a8a">6.00</text>
<text x="493.16" y="576.53" font-size="7.3" text-anchor="middle" font-weight="normal" fill="#8a8a8a">24</text>
<text x="483.91" y="597.31" font-size="7.3" text-anchor="middle" font-weight="normal" fill="#8a8a8a">20</text>
<text x="474.66" y="618.1" font-size="7.3" text-anchor="middle" font-weight="normal" fill="#8a8a8a">16</text>
<text x="465.4" y="638.88" font-size="7.3" text-anchor="middle" font-weight="normal" fill="#8a8a8a">12</text>
<text x="457.98" y="659.66" font-size="7.3" text-anchor="middle" font-weight="normal" fill="#8a8a8a">8</text>
<text x="522.86" y="597.72" font-size="7.3" text-anchor="middle" font-weight="normal" fill="#8a8a8a">2.4</text>
<text x="505.96" y="612.94" font-size="7.3" text-anchor="middle" font-weight="normal" fill="#8a8a8a">2.1</text>
<text x="489.05" y="628.16" font-size="7.3" text-anchor="middle" font-weight="normal" fill="#8a8a8a">1.8</text>
<text x="472.14" y="643.38" font-size="7.3" text-anchor="middle" font-weight="normal" fill="#8a8a8a">1.5</text>
<text x="455.24" y="658.61" font-size="7.3" text-anchor="middle" font-weight="normal" fill="#8a8a8a">1.2</text>
<text x="549.05" y="630.15" font-size="7.3" text-anchor="middle" font-weight="normal" fill="#8a8a8a">0.90</text>
<text x="527.41" y="637.18" font-size="7.3" text-anchor="middle" font-weight="normal" fill="#8a8a8a">0.75</text>
<text x="505.77" y="644.21" font-size="7.3" text-anchor="middle" font-weight="normal" fill="#8a8a8a">0.60</text>
<text x="484.14" y="651.24" font-size="7.3" text-anchor="middle" font-weight="normal" fill="#8a8a8a">0.45</text>
<text x="462.5" y="658.27" font-size="7.3" text-anchor="middle" font-weight="normal" fill="#8a8a8a">0.30</text>
<text x="553" y="667.78" font-size="7.3" text-anchor="middle" font-weight="normal" fill="#8a8a8a">25.0</text>
<text x="530.38" y="665.4" font-size="7.3" text-anchor="middle" font-weight="normal" fill="#8a8a8a">22.5</text>
<text x="507.75" y="663.02" font-size="7.3" text-anchor="middle" font-weight="normal" fill="#8a8a8a">20.0</text>
<text x="485.13" y="660.65" font-size="7.3" text-anchor="middle" font-weight="normal" fill="#8a8a8a">17.5</text>
<text x="462.5" y="658.27" font-size="7.3" text-anchor="middle" font-weight="normal" fill="#8a8a8a">15.0</text>
<text x="549.48" y="703.91" font-size="7.3" text-anchor="middle" font-weight="normal" fill="#8a8a8a">280</text>
<text x="529.78" y="692.54" font-size="7.3" text-anchor="middle" font-weight="normal" fill="#8a8a8a">240</text>
<text x="510.08" y="681.16" font-size="7.3" text-anchor="middle" font-weight="normal" fill="#8a8a8a">200</text>
<text x="490.38" y="669.79" font-size="7.3" text-anchor="middle" font-weight="normal" fill="#8a8a8a">160</text>
<text x="470.68" y="658.41" font-size="7.3" text-anchor="middle" font-weight="normal" fill="#8a8a8a">120</text>
<text x="524.16" y="732.45" font-size="7.3" text-anchor="middle" font-weight="normal" fill="#8a8a8a">120</text>
<text x="510.79" y="714.04" font-size="7.3" text-anchor="middle" font-weight="normal" fill="#8a8a8a">105</text>
<text x="495.59" y="695.64" font-size="7.3" text-anchor="middle" font-weight="normal" fill="#8a8a8a">90</text>
<text x="482.22" y="677.23" font-size="7.3" text-anchor="middle" font-weight="normal" fill="#8a8a8a">75</text>
<text x="468.85" y="658.83" font-size="7.3" text-anchor="middle" font-weight="normal" fill="#8a8a8a">60</text>
<text x="487.77" y="753.77" font-size="7.3" text-anchor="middle" font-weight="normal" fill="#8a8a8a">60</text>
<text x="483.04" y="731.52" font-size="7.3" text-anchor="middle" font-weight="normal" fill="#8a8a8a">45</text>
<text x="478.31" y="709.26" font-size="7.3" text-anchor="middle" font-weight="normal" fill="#8a8a8a">30</text>
<text x="473.58" y="687.01" font-size="7.3" text-anchor="middle" font-weight="normal" fill="#8a8a8a">15</text>
<text x="467.02" y="664.76" font-size="7.3" text-anchor="middle" font-weight="normal" fill="#8a8a8a">0</text>
<text x="451.76" y="754.64" font-size="7.3" text-anchor="middle" font-weight="normal" fill="#8a8a8a">165</text>
<text x="456.49" y="732.39" font-size="7.3" text-anchor="middle" font-weight="normal" fill="#8a8a8a">150</text>
<text x="461.22" y="710.13" font-size="7.3" text-anchor="middle" font-weight="normal" fill="#8a8a8a">135</text>
<text x="465.95" y="687.88" font-size="7.3" text-anchor="middle" font-weight="normal" fill="#8a8a8a">120</text>
<text x="470.68" y="665.63" font-size="7.3" text-anchor="middle" font-weight="normal" fill="#8a8a8a">105</text>
<text x="417.19" y="745.91" font-size="7.3" text-anchor="middle" font-weight="normal" fill="#8a8a8a">140</text>
<text x="430.56" y="727.5" font-size="7.3" text-anchor="middle" font-weight="normal" fill="#8a8a8a">120</text>
<text x="443.93" y="709.1" font-size="7.3" text-anchor="middle" font-weight="normal" fill="#8a8a8a">100</text>
<text x="455.48" y="690.69" font-size="7.3" text-anchor="middle" font-weight="normal" fill="#8a8a8a">80</text>
<text x="468.85" y="672.29" font-size="7.3" text-anchor="middle" font-weight="normal" fill="#8a8a8a">60</text>
<text x="390.04" y="718.26" font-size="7.3" text-anchor="middle" font-weight="normal" fill="#8a8a8a">24</text>
<text x="409.74" y="706.88" font-size="7.3" text-anchor="middle" font-weight="normal" fill="#8a8a8a">20</text>
<text x="429.45" y="695.51" font-size="7.3" text-anchor="middle" font-weight="normal" fill="#8a8a8a">16</text>
<text x="449.15" y="684.13" font-size="7.3" text-anchor="middle" font-weight="normal" fill="#8a8a8a">12</text>
<text x="467.02" y="672.76" font-size="7.3" text-anchor="middle" font-weight="normal" fill="#8a8a8a">8</text>
<text x="372" y="682.43" font-size="7.3" text-anchor="middle" font-weight="normal" fill="#8a8a8a">32</text>
<text x="394.62" y="680.05" font-size="7.3" text-anchor="middle" font-weight="normal" fill="#8a8a8a">28</text>
<text x="417.25" y="677.67" font-size="7.3" text-anchor="middle" font-weight="normal" fill="#8a8a8a">24</text>
<text x="439.87" y="675.3" font-size="7.3" text-anchor="middle" font-weight="normal" fill="#8a8a8a">20</text>
<text x="462.5" y="672.92" font-size="7.3" text-anchor="middle" font-weight="normal" fill="#8a8a8a">16</text>
<text x="375.95" y="644.8" font-size="7.3" text-anchor="middle" font-weight="normal" fill="#8a8a8a">150</text>
<text x="397.59" y="651.83" font-size="7.3" text-anchor="middle" font-weight="normal" fill="#8a8a8a">125</text>
<text x="419.23" y="658.86" font-size="7.3" text-anchor="middle" font-weight="normal" fill="#8a8a8a">100</text>
<text x="440.86" y="665.89" font-size="7.3" text-anchor="middle" font-weight="normal" fill="#8a8a8a">75</text>
<text x="462.5" y="672.92" font-size="7.3" text-anchor="middle" font-weight="normal" fill="#8a8a8a">50</text>
<text x="388.52" y="611.64" font-size="7.3" text-anchor="middle" font-weight="normal" fill="#8a8a8a">80</text>
<text x="405.43" y="626.87" font-size="7.3" text-anchor="middle" font-weight="normal" fill="#8a8a8a">60</text>
<text x="422.34" y="642.09" font-size="7.3" text-anchor="middle" font-weight="normal" fill="#8a8a8a">40</text>
<text x="439.24" y="657.31" font-size="7.3" text-anchor="middle" font-weight="normal" fill="#8a8a8a">20</text>
<text x="457.98" y="672.54" font-size="7.3" text-anchor="middle" font-weight="normal" fill="#8a8a8a">0</text>
<text x="417.31" y="588.22" font-size="7.3" text-anchor="middle" font-weight="normal" fill="#8a8a8a">300</text>
<text x="426.57" y="609" font-size="7.3" text-anchor="middle" font-weight="normal" fill="#8a8a8a">250</text>
<text x="435.82" y="629.78" font-size="7.3" text-anchor="middle" font-weight="normal" fill="#8a8a8a">200</text>
<text x="445.07" y="650.57" font-size="7.3" text-anchor="middle" font-weight="normal" fill="#8a8a8a">150</text>
<text x="454.32" y="671.35" font-size="7.3" text-anchor="middle" font-weight="normal" fill="#8a8a8a">100</text>
</g>
<polygon points="462.5,611.44 486.48,608.53 497.94,630.49 519.62,643.84 513.45,667.76 488.35,677.32 502.99,718.13 472.98,711.71 452.02,711.71 436.93,697.59 421.83,685.88 414.99,667.39 428.83,651.46 430.92,633.96 440.14,612.19" fill="#5ab657" fill-opacity="0.6" stroke="#5ab657" stroke-opacity="0.85" stroke-width="0.6" stroke-linejoin="round"/>
<polygon points="462.5,610.07 484.34,613.35 489.89,637.74 512.52,646.15 510.74,667.47 485.51,675.69 491.6,702.45 467.61,686.43 453.93,702.72 440.46,692.73 433.97,678.87 426.3,666.2 434.81,653.4 435.25,637.86 442.4,617.26" fill="#da4e4e" fill-opacity="0.6" stroke="#da4e4e" stroke-opacity="0.85" stroke-width="0.6" stroke-linejoin="round"/>
<polygon points="462.5,609.8 484.19,613.68 478.93,647.6 499.71,650.31 505.22,666.89 483.94,674.78 485.34,693.84 467.04,683.76 454.89,698.18 443.08,689.12 436.1,677.64 432.45,665.56 436.97,654.1 437.14,639.57 444.4,621.75" fill="#f0ac49" fill-opacity="0.6" stroke="#f0ac49" stroke-opacity="0.85" stroke-width="0.6" stroke-linejoin="round"/>
<polygon points="462.5,608.44 481.34,620.09 474.67,651.44 498.85,650.59 503.5,666.71 480.31,672.68 481.76,688.9 466.47,681.09 456.26,691.77 445.76,685.44 439.65,675.6 437.34,665.04 439.13,654.81 437.88,640.24 446.03,625.41" fill="#397ec3" fill-opacity="0.6" stroke="#397ec3" stroke-opacity="0.85" stroke-width="0.6" stroke-linejoin="round"/>
<g opacity="0.1">
<polygon points="462.5,571.4 499.51,579.27 530.13,601.51 549.05,634.28 553,671.91 541.31,707.9 515.99,736.02 481.42,751.41 443.58,751.41 409.01,736.02 383.69,707.9 372,671.91 375.95,634.28 394.87,601.51 425.49,579.27" fill="none" stroke="#777" stroke-width="0.5"/>
<polygon points="462.5,594.15 490.26,600.05 513.22,616.73 527.41,641.31 530.38,669.53 521.61,696.52 502.62,717.62 476.69,729.16 448.31,729.16 422.38,717.62 403.39,696.52 394.62,669.53 397.59,641.31 411.78,616.73 434.74,600.05" fill="none" stroke="#777" stroke-width="0.5"/>
<polygon points="462.5,616.9 481.01,620.83 496.31,631.95 505.77,648.34 507.75,667.16 501.9,685.15 489.24,699.21 471.96,706.91 453.04,706.91 435.76,699.21 423.1,685.15 417.25,667.16 419.23,648.34 428.69,631.95 443.99,620.83" fill="none" stroke="#777" stroke-width="0.5"/>
<polygon points="462.5,639.65 471.75,641.62 479.41,647.18 484.14,655.37 485.13,664.78 482.2,673.77 475.87,680.81 467.23,684.65 457.77,684.65 449.13,680.81 442.8,673.77 439.87,664.78 440.86,655.37 445.59,647.18 453.25,641.62" fill="none" stroke="#777" stroke-width="0.5"/>
<line x1="462.7" y1="662.4" x2="462.7" y2="571.4" stroke="#9c9c9c" stroke-width="2.2"/>
<line x1="462.5" y1="662.4" x2="499.51" y2="579.27" stroke="#444" stroke-width="0.6"/>
<line x1="462.5" y1="662.4" x2="530.13" y2="601.51" stroke="#444" stroke-width="0.6"/>
<line x1="462.5" y1="662.4" x2="549.05" y2="634.28" stroke="#444" stroke-width="0.6"/>
<line x1="462.5" y1="662.4" x2="553" y2="671.91" stroke="#444" stroke-width="0.6"/>
<line x1="462.5" y1="662.4" x2="541.31" y2="707.9" stroke="#444" stroke-width="0.6"/>
<line x1="462.5" y1="662.4" x2="515.99" y2="736.02" stroke="#444" stroke-width="0.6"/>
<line x1="462.5" y1="662.4" x2="481.42" y2="751.41" stroke="#444" stroke-width="0.6"/>
<line x1="462.5" y1="662.4" x2="443.58" y2="751.41" stroke="#444" stroke-width="0.6"/>
<line x1="462.5" y1="662.4" x2="409.01" y2="736.02" stroke="#444" stroke-width="0.6"/>
<line x1="462.5" y1="662.4" x2="383.69" y2="707.9" stroke="#444" stroke-width="0.6"/>
<line x1="462.5" y1="662.4" x2="372" y2="671.91" stroke="#444" stroke-width="0.6"/>
<line x1="462.5" y1="662.4" x2="375.95" y2="634.28" stroke="#444" stroke-width="0.6"/>
<line x1="462.5" y1="662.4" x2="394.87" y2="601.51" stroke="#444" stroke-width="0.6"/>
<line x1="462.5" y1="662.4" x2="425.49" y2="579.27" stroke="#444" stroke-width="0.6"/>
<text x="453.41" y="619.67" font-size="7.3" text-anchor="middle" font-weight="normal" fill="#8a8a8a">6.50</text>
<text x="453.41" y="642.42" font-size="7.3" text-anchor="middle" font-weight="normal" fill="#8a8a8a">6.25</text>
<text x="453.41" y="665.17" font-size="7.3" text-anchor="middle" font-weight="normal" fill="#8a8a8a">6.00</text>
<text x="474.66" y="618.1" font-size="7.3" text-anchor="middle" font-weight="normal" fill="#8a8a8a">16</text>
<text x="465.4" y="638.88" font-size="7.3" text-anchor="middle" font-weight="normal" fill="#8a8a8a">12</text>
<text x="457.98" y="659.66" font-size="7.3" text-anchor="middle" font-weight="normal" fill="#8a8a8a">8</text>
<text x="489.05" y="628.16" font-size="7.3" text-anchor="middle" font-weight="normal" fill="#8a8a8a">1.8</text>
<text x="472.14" y="643.38" font-size="7.3" text-anchor="middle" font-weight="normal" fill="#8a8a8a">1.5</text>
<text x="455.24" y="658.61" font-size="7.3" text-anchor="middle" font-weight="normal" fill="#8a8a8a">1.2</text>
<text x="505.77" y="644.21" font-size="7.3" text-anchor="middle" font-weight="normal" fill="#8a8a8a">0.60</text>
<text x="484.14" y="651.24" font-size="7.3" text-anchor="middle" font-weight="normal" fill="#8a8a8a">0.45</text>
<text x="462.5" y="658.27" font-size="7.3" text-anchor="middle" font-weight="normal" fill="#8a8a8a">0.30</text>
<text x="507.75" y="663.02" font-size="7.3" text-anchor="middle" font-weight="normal" fill="#8a8a8a">20.0</text>
<text x="485.13" y="660.65" font-size="7.3" text-anchor="middle" font-weight="normal" fill="#8a8a8a">17.5</text>
<text x="462.5" y="658.27" font-size="7.3" text-anchor="middle" font-weight="normal" fill="#8a8a8a">15.0</text>
<text x="510.08" y="681.16" font-size="7.3" text-anchor="middle" font-weight="normal" fill="#8a8a8a">200</text>
<text x="490.38" y="669.79" font-size="7.3" text-anchor="middle" font-weight="normal" fill="#8a8a8a">160</text>
<text x="470.68" y="658.41" font-size="7.3" text-anchor="middle" font-weight="normal" fill="#8a8a8a">120</text>
<text x="495.59" y="695.64" font-size="7.3" text-anchor="middle" font-weight="normal" fill="#8a8a8a">90</text>
<text x="482.22" y="677.23" font-size="7.3" text-anchor="middle" font-weight="normal" fill="#8a8a8a">75</text>
<text x="468.85" y="658.83" font-size="7.3" text-anchor="middle" font-weight="normal" fill="#8a8a8a">60</text>
<text x="478.31" y="709.26" font-size="7.3" text-anchor="middle" font-weight="normal" fill="#8a8a8a">30</text>
<text x="473.58" y="687.01" font-size="7.3" text-anchor="middle" font-weight="normal" fill="#8a8a8a">15</text>
<text x="467.02" y="664.76" font-size="7.3" text-anchor="middle" font-weight="normal" fill="#8a8a8a">0</text>
<text x="461.22" y="710.13" font-size="7.3" text-anchor="middle" font-weight="normal" fill="#8a8a8a">135</text>
<text x="465.95" y="687.88" font-size="7.3" text-anchor="middle" font-weight="normal" fill="#8a8a8a">120</text>
<text x="470.68" y="665.63" font-size="7.3" text-anchor="middle" font-weight="normal" fill="#8a8a8a">105</text>
<text x="443.93" y="709.1" font-size="7.3" text-anchor="middle" font-weight="normal" fill="#8a8a8a">100</text>
<text x="455.48" y="690.69" font-size="7.3" text-anchor="middle" font-weight="normal" fill="#8a8a8a">80</text>
<text x="468.85" y="672.29" font-size="7.3" text-anchor="middle" font-weight="normal" fill="#8a8a8a">60</text>
<text x="429.45" y="695.51" font-size="7.3" text-anchor="middle" font-weight="normal" fill="#8a8a8a">16</text>
<text x="449.15" y="684.13" font-size="7.3" text-anchor="middle" font-weight="normal" fill="#8a8a8a">12</text>
<text x="467.02" y="672.76" font-size="7.3" text-anchor="middle" font-weight="normal" fill="#8a8a8a">8</text>
<text x="417.25" y="677.67" font-size="7.3" text-anchor="middle" font-weight="normal" fill="#8a8a8a">24</text>
<text x="439.87" y="675.3" font-size="7.3" text-anchor="middle" font-weight="normal" fill="#8a8a8a">20</text>
<text x="462.5" y="672.92" font-size="7.3" text-anchor="middle" font-weight="normal" fill="#8a8a8a">16</text>
<text x="419.23" y="658.86" font-size="7.3" text-anchor="middle" font-weight="normal" fill="#8a8a8a">100</text>
<text x="440.86" y="665.89" font-size="7.3" text-anchor="middle" font-weight="normal" fill="#8a8a8a">75</text>
<text x="462.5" y="672.92" font-size="7.3" text-anchor="middle" font-weight="normal" fill="#8a8a8a">50</text>
<text x="422.34" y="642.09" font-size="7.3" text-anchor="middle" font-weight="normal" fill="#8a8a8a">40</text>
<text x="439.24" y="657.31" font-size="7.3" text-anchor="middle" font-weight="normal" fill="#8a8a8a">20</text>
<text x="457.98" y="672.54" font-size="7.3" text-anchor="middle" font-weight="normal" fill="#8a8a8a">0</text>
<text x="435.82" y="629.78" font-size="7.3" text-anchor="middle" font-weight="normal" fill="#8a8a8a">200</text>
<text x="445.07" y="650.57" font-size="7.3" text-anchor="middle" font-weight="normal" fill="#8a8a8a">150</text>
<text x="454.32" y="671.35" font-size="7.3" text-anchor="middle" font-weight="normal" fill="#8a8a8a">100</text>
</g>
<text x="462.2" y="560.5" font-size="12.5" text-anchor="middle" font-weight="bold" fill="#000">pH</text>
<text x="517" y="568.2" font-size="12.5" text-anchor="middle" font-weight="bold" fill="#000">SOC</text>
<text x="546.6" y="592.5" font-size="12.5" text-anchor="middle" font-weight="bold" fill="#000">TN</text>
<text x="565.9" y="635.9" font-size="12.5" text-anchor="middle" font-weight="bold" fill="#000">TP</text>
<text x="572.5" y="677.4" font-size="12.5" text-anchor="middle" font-weight="bold" fill="#000">TK</text>
<text x="564.3" y="724.8" font-size="12.5" text-anchor="middle" font-weight="bold" fill="#000">DOC</text>
<text x="535.9" y="755.7" font-size="12.5" text-anchor="middle" font-weight="bold" fill="#000">AVN</text>
<text x="483.4" y="772.7" font-size="12.5" text-anchor="middle" font-weight="bold" fill="#000">AVP</text>
<text x="441.5" y="772.7" font-size="12.5" text-anchor="middle" font-weight="bold" fill="#000">AVK</text>
<text x="389" y="754.8" font-size="12.5" text-anchor="middle" font-weight="bold" fill="#000">MBC</text>
<text x="361.3" y="724" font-size="12.5" text-anchor="middle" font-weight="bold" fill="#000">MBN</text>
<text x="349.5" y="677.2" font-size="12.5" text-anchor="middle" font-weight="bold" fill="#000">MBP</text>
<text x="358.3" y="635.7" font-size="12.5" text-anchor="middle" font-weight="bold" fill="#000">BG</text>
<text x="358.5" y="592.3" font-size="12.5" text-anchor="middle" font-weight="bold" fill="#000">NAG+LAP</text>
<text x="413.5" y="568.1" font-size="12.5" text-anchor="middle" font-weight="bold" fill="#000">AP</text>
</g>
<g>
<g opacity="1">
<polygon points="736.5,571.4 773.51,579.27 804.13,601.51 823.05,634.28 827,671.91 815.31,707.9 789.99,736.02 755.42,751.41 717.58,751.41 683.01,736.02 657.69,707.9 646,671.91 649.95,634.28 668.87,601.51 699.49,579.27" fill="none" stroke="#777" stroke-width="0.5"/>
<polygon points="736.5,594.15 764.26,600.05 787.22,616.73 801.41,641.31 804.38,669.53 795.61,696.52 776.62,717.62 750.69,729.16 722.31,729.16 696.38,717.62 677.39,696.52 668.62,669.53 671.59,641.31 685.78,616.73 708.74,600.05" fill="none" stroke="#777" stroke-width="0.5"/>
<polygon points="736.5,616.9 755.01,620.83 770.31,631.95 779.77,648.34 781.75,667.16 775.9,685.15 763.24,699.21 745.96,706.91 727.04,706.91 709.76,699.21 697.1,685.15 691.25,667.16 693.23,648.34 702.69,631.95 717.99,620.83" fill="none" stroke="#777" stroke-width="0.5"/>
<polygon points="736.5,639.65 745.75,641.62 753.41,647.18 758.14,655.37 759.13,664.78 756.2,673.77 749.87,680.81 741.23,684.65 731.77,684.65 723.13,680.81 716.8,673.77 713.87,664.78 714.86,655.37 719.59,647.18 727.25,641.62" fill="none" stroke="#777" stroke-width="0.5"/>
<line x1="736.6" y1="662.4" x2="736.6" y2="571.4" stroke="#7e7e7e" stroke-width="1.2"/>
<line x1="736.5" y1="662.4" x2="773.51" y2="579.27" stroke="#444" stroke-width="0.6"/>
<line x1="736.5" y1="662.4" x2="804.13" y2="601.51" stroke="#444" stroke-width="0.6"/>
<line x1="736.5" y1="662.4" x2="823.05" y2="634.28" stroke="#444" stroke-width="0.6"/>
<line x1="736.5" y1="662.4" x2="827" y2="671.91" stroke="#444" stroke-width="0.6"/>
<line x1="736.5" y1="662.4" x2="815.31" y2="707.9" stroke="#444" stroke-width="0.6"/>
<line x1="736.5" y1="662.4" x2="789.99" y2="736.02" stroke="#444" stroke-width="0.6"/>
<line x1="736.5" y1="662.4" x2="755.42" y2="751.41" stroke="#444" stroke-width="0.6"/>
<line x1="736.5" y1="662.4" x2="717.58" y2="751.41" stroke="#444" stroke-width="0.6"/>
<line x1="736.5" y1="662.4" x2="683.01" y2="736.02" stroke="#444" stroke-width="0.6"/>
<line x1="736.5" y1="662.4" x2="657.69" y2="707.9" stroke="#444" stroke-width="0.6"/>
<line x1="736.5" y1="662.4" x2="646" y2="671.91" stroke="#444" stroke-width="0.6"/>
<line x1="736.5" y1="662.4" x2="649.95" y2="634.28" stroke="#444" stroke-width="0.6"/>
<line x1="736.5" y1="662.4" x2="668.87" y2="601.51" stroke="#444" stroke-width="0.6"/>
<line x1="736.5" y1="662.4" x2="699.49" y2="579.27" stroke="#444" stroke-width="0.6"/>
<text x="726.54" y="574.51" font-size="8.3" text-anchor="middle" font-weight="normal" fill="#747474">7.00</text>
<text x="726.54" y="597.26" font-size="8.3" text-anchor="middle" font-weight="normal" fill="#747474">6.75</text>
<text x="726.54" y="620.01" font-size="8.3" text-anchor="middle" font-weight="normal" fill="#747474">6.50</text>
<text x="726.54" y="642.76" font-size="8.3" text-anchor="middle" font-weight="normal" fill="#747474">6.25</text>
<text x="726.54" y="665.51" font-size="8.3" text-anchor="middle" font-weight="normal" fill="#747474">6.00</text>
<text x="766.66" y="576.87" font-size="8.3" text-anchor="middle" font-weight="normal" fill="#747474">24</text>
<text x="757.41" y="597.65" font-size="8.3" text-anchor="middle" font-weight="normal" fill="#747474">20</text>
<text x="748.16" y="618.43" font-size="8.3" text-anchor="middle" font-weight="normal" fill="#747474">16</text>
<text x="738.9" y="639.22" font-size="8.3" text-anchor="middle" font-weight="normal" fill="#747474">12</text>
<text x="731.73" y="660" font-size="8.3" text-anchor="middle" font-weight="normal" fill="#747474">8</text>
<text x="796.24" y="598.05" font-size="8.3" text-anchor="middle" font-weight="normal" fill="#747474">2.4</text>
<text x="779.33" y="613.28" font-size="8.3" text-anchor="middle" font-weight="normal" fill="#747474">2.1</text>
<text x="762.43" y="628.5" font-size="8.3" text-anchor="middle" font-weight="normal" fill="#747474">1.8</text>
<text x="745.52" y="643.72" font-size="8.3" text-anchor="middle" font-weight="normal" fill="#747474">1.5</text>
<text x="728.61" y="658.95" font-size="8.3" text-anchor="middle" font-weight="normal" fill="#747474">1.2</text>
<text x="823.05" y="630.48" font-size="8.3" text-anchor="middle" font-weight="normal" fill="#747474">0.90</text>
<text x="801.41" y="637.51" font-size="8.3" text-anchor="middle" font-weight="normal" fill="#747474">0.75</text>
<text x="779.77" y="644.55" font-size="8.3" text-anchor="middle" font-weight="normal" fill="#747474">0.60</text>
<text x="758.14" y="651.58" font-size="8.3" text-anchor="middle" font-weight="normal" fill="#747474">0.45</text>
<text x="736.5" y="658.61" font-size="8.3" text-anchor="middle" font-weight="normal" fill="#747474">0.30</text>
<text x="827" y="668.12" font-size="8.3" text-anchor="middle" font-weight="normal" fill="#747474">25.0</text>
<text x="804.38" y="665.74" font-size="8.3" text-anchor="middle" font-weight="normal" fill="#747474">22.5</text>
<text x="781.75" y="663.36" font-size="8.3" text-anchor="middle" font-weight="normal" fill="#747474">20.0</text>
<text x="759.13" y="660.98" font-size="8.3" text-anchor="middle" font-weight="normal" fill="#747474">17.5</text>
<text x="736.5" y="658.61" font-size="8.3" text-anchor="middle" font-weight="normal" fill="#747474">15.0</text>
<text x="824.23" y="704.25" font-size="8.3" text-anchor="middle" font-weight="normal" fill="#747474">280</text>
<text x="804.53" y="692.87" font-size="8.3" text-anchor="middle" font-weight="normal" fill="#747474">240</text>
<text x="784.83" y="681.5" font-size="8.3" text-anchor="middle" font-weight="normal" fill="#747474">200</text>
<text x="765.13" y="670.12" font-size="8.3" text-anchor="middle" font-weight="normal" fill="#747474">160</text>
<text x="745.42" y="658.75" font-size="8.3" text-anchor="middle" font-weight="normal" fill="#747474">120</text>
<text x="798.91" y="732.79" font-size="8.3" text-anchor="middle" font-weight="normal" fill="#747474">120</text>
<text x="785.54" y="714.38" font-size="8.3" text-anchor="middle" font-weight="normal" fill="#747474">105</text>
<text x="770.09" y="695.98" font-size="8.3" text-anchor="middle" font-weight="normal" fill="#747474">90</text>
<text x="756.72" y="677.57" font-size="8.3" text-anchor="middle" font-weight="normal" fill="#747474">75</text>
<text x="743.35" y="659.17" font-size="8.3" text-anchor="middle" font-weight="normal" fill="#747474">60</text>
<text x="762.27" y="754.11" font-size="8.3" text-anchor="middle" font-weight="normal" fill="#747474">60</text>
<text x="757.54" y="731.85" font-size="8.3" text-anchor="middle" font-weight="normal" fill="#747474">45</text>
<text x="752.81" y="709.6" font-size="8.3" text-anchor="middle" font-weight="normal" fill="#747474">30</text>
<text x="748.08" y="687.35" font-size="8.3" text-anchor="middle" font-weight="normal" fill="#747474">15</text>
<text x="741.27" y="665.1" font-size="8.3" text-anchor="middle" font-weight="normal" fill="#747474">0</text>
<text x="726.51" y="754.98" font-size="8.3" text-anchor="middle" font-weight="normal" fill="#747474">165</text>
<text x="731.24" y="732.72" font-size="8.3" text-anchor="middle" font-weight="normal" fill="#747474">150</text>
<text x="735.97" y="710.47" font-size="8.3" text-anchor="middle" font-weight="normal" fill="#747474">135</text>
<text x="740.7" y="688.22" font-size="8.3" text-anchor="middle" font-weight="normal" fill="#747474">120</text>
<text x="745.42" y="665.97" font-size="8.3" text-anchor="middle" font-weight="normal" fill="#747474">105</text>
<text x="700.76" y="734.1" font-size="8.3" text-anchor="middle" font-weight="normal" fill="#747474">120</text>
<text x="714.13" y="715.69" font-size="8.3" text-anchor="middle" font-weight="normal" fill="#747474">105</text>
<text x="725.43" y="697.29" font-size="8.3" text-anchor="middle" font-weight="normal" fill="#747474">90</text>
<text x="738.8" y="678.88" font-size="8.3" text-anchor="middle" font-weight="normal" fill="#747474">75</text>
<text x="671.24" y="714.73" font-size="8.3" text-anchor="middle" font-weight="normal" fill="#747474">21</text>
<text x="690.94" y="703.35" font-size="8.3" text-anchor="middle" font-weight="normal" fill="#747474">18</text>
<text x="710.64" y="691.98" font-size="8.3" text-anchor="middle" font-weight="normal" fill="#747474">15</text>
<text x="730.35" y="680.6" font-size="8.3" text-anchor="middle" font-weight="normal" fill="#747474">12</text>
<text x="657.31" y="681.58" font-size="8.3" text-anchor="middle" font-weight="normal" fill="#747474">32</text>
<text x="679.67" y="679.23" font-size="8.3" text-anchor="middle" font-weight="normal" fill="#747474">28</text>
<text x="702.11" y="676.87" font-size="8.3" text-anchor="middle" font-weight="normal" fill="#747474">24</text>
<text x="724.73" y="674.49" font-size="8.3" text-anchor="middle" font-weight="normal" fill="#747474">20</text>
<text x="649.95" y="645.13" font-size="8.3" text-anchor="middle" font-weight="normal" fill="#747474">150</text>
<text x="671.59" y="652.16" font-size="8.3" text-anchor="middle" font-weight="normal" fill="#747474">125</text>
<text x="693.23" y="659.2" font-size="8.3" text-anchor="middle" font-weight="normal" fill="#747474">100</text>
<text x="714.86" y="666.23" font-size="8.3" text-anchor="middle" font-weight="normal" fill="#747474">75</text>
<text x="736.5" y="673.26" font-size="8.3" text-anchor="middle" font-weight="normal" fill="#747474">50</text>
<text x="662.02" y="611.98" font-size="8.3" text-anchor="middle" font-weight="normal" fill="#747474">80</text>
<text x="678.93" y="627.21" font-size="8.3" text-anchor="middle" font-weight="normal" fill="#747474">60</text>
<text x="695.84" y="642.43" font-size="8.3" text-anchor="middle" font-weight="normal" fill="#747474">40</text>
<text x="712.74" y="657.65" font-size="8.3" text-anchor="middle" font-weight="normal" fill="#747474">20</text>
<text x="731.73" y="672.87" font-size="8.3" text-anchor="middle" font-weight="normal" fill="#747474">0</text>
<text x="690.56" y="588.56" font-size="8.3" text-anchor="middle" font-weight="normal" fill="#747474">300</text>
<text x="699.82" y="609.34" font-size="8.3" text-anchor="middle" font-weight="normal" fill="#747474">250</text>
<text x="709.07" y="630.12" font-size="8.3" text-anchor="middle" font-weight="normal" fill="#747474">200</text>
<text x="718.32" y="650.9" font-size="8.3" text-anchor="middle" font-weight="normal" fill="#747474">150</text>
<text x="727.58" y="671.69" font-size="8.3" text-anchor="middle" font-weight="normal" fill="#747474">100</text>
</g>
<polygon points="736.5,615.08 768.04,591.57 777.89,625.13 797.6,642.55 789.44,667.96 768.57,680.92 784.32,728.22 747.76,715.36 722.88,726.49 701.73,710.25 678.5,695.89 699.39,666.3 673.23,641.84 682.94,614.17 710.07,603.04" fill="#5ab657" fill-opacity="0.6" stroke="#5ab657" stroke-opacity="0.85" stroke-width="0.6" stroke-linejoin="round"/>
<polygon points="736.5,615.08 765.37,597.56 763.89,637.74 790.68,644.8 781.75,667.16 761.56,676.87 772.02,711.28 742.61,691.15 724.64,718.21 713.82,693.62 712.07,676.5 713.24,664.84 692.27,648.03 702.55,631.83 712.81,609.2" fill="#da4e4e" fill-opacity="0.6" stroke="#da4e4e" stroke-opacity="0.85" stroke-width="0.6" stroke-linejoin="round"/>
<polygon points="736.5,614.81 761.45,606.37 756.79,644.13 780.21,648.2 781.3,667.11 759.35,675.6 763.08,698.99 742.12,688.84 726.6,708.95 715.1,691.85 712.86,676.05 715.68,664.59 699.63,650.42 703.63,632.81 713,609.61" fill="#f0ac49" fill-opacity="0.6" stroke="#f0ac49" stroke-opacity="0.85" stroke-width="0.6" stroke-linejoin="round"/>
<polygon points="736.5,614.81 760.26,609.03 754.96,645.78 778.22,648.85 780.57,667.03 756.99,674.23 759.87,694.57 741.63,686.52 727.95,702.63 724.84,678.45 712.86,676.05 716.59,664.49 701.45,651.01 704.99,634.02 719.44,624.08" fill="#397ec3" fill-opacity="0.6" stroke="#397ec3" stroke-opacity="0.85" stroke-width="0.6" stroke-linejoin="round"/>
<g opacity="0.1">
<polygon points="736.5,571.4 773.51,579.27 804.13,601.51 823.05,634.28 827,671.91 815.31,707.9 789.99,736.02 755.42,751.41 717.58,751.41 683.01,736.02 657.69,707.9 646,671.91 649.95,634.28 668.87,601.51 699.49,579.27" fill="none" stroke="#777" stroke-width="0.5"/>
<polygon points="736.5,594.15 764.26,600.05 787.22,616.73 801.41,641.31 804.38,669.53 795.61,696.52 776.62,717.62 750.69,729.16 722.31,729.16 696.38,717.62 677.39,696.52 668.62,669.53 671.59,641.31 685.78,616.73 708.74,600.05" fill="none" stroke="#777" stroke-width="0.5"/>
<polygon points="736.5,616.9 755.01,620.83 770.31,631.95 779.77,648.34 781.75,667.16 775.9,685.15 763.24,699.21 745.96,706.91 727.04,706.91 709.76,699.21 697.1,685.15 691.25,667.16 693.23,648.34 702.69,631.95 717.99,620.83" fill="none" stroke="#777" stroke-width="0.5"/>
<polygon points="736.5,639.65 745.75,641.62 753.41,647.18 758.14,655.37 759.13,664.78 756.2,673.77 749.87,680.81 741.23,684.65 731.77,684.65 723.13,680.81 716.8,673.77 713.87,664.78 714.86,655.37 719.59,647.18 727.25,641.62" fill="none" stroke="#777" stroke-width="0.5"/>
<line x1="736.6" y1="662.4" x2="736.6" y2="571.4" stroke="#7e7e7e" stroke-width="1.2"/>
<line x1="736.5" y1="662.4" x2="773.51" y2="579.27" stroke="#444" stroke-width="0.6"/>
<line x1="736.5" y1="662.4" x2="804.13" y2="601.51" stroke="#444" stroke-width="0.6"/>
<line x1="736.5" y1="662.4" x2="823.05" y2="634.28" stroke="#444" stroke-width="0.6"/>
<line x1="736.5" y1="662.4" x2="827" y2="671.91" stroke="#444" stroke-width="0.6"/>
<line x1="736.5" y1="662.4" x2="815.31" y2="707.9" stroke="#444" stroke-width="0.6"/>
<line x1="736.5" y1="662.4" x2="789.99" y2="736.02" stroke="#444" stroke-width="0.6"/>
<line x1="736.5" y1="662.4" x2="755.42" y2="751.41" stroke="#444" stroke-width="0.6"/>
<line x1="736.5" y1="662.4" x2="717.58" y2="751.41" stroke="#444" stroke-width="0.6"/>
<line x1="736.5" y1="662.4" x2="683.01" y2="736.02" stroke="#444" stroke-width="0.6"/>
<line x1="736.5" y1="662.4" x2="657.69" y2="707.9" stroke="#444" stroke-width="0.6"/>
<line x1="736.5" y1="662.4" x2="646" y2="671.91" stroke="#444" stroke-width="0.6"/>
<line x1="736.5" y1="662.4" x2="649.95" y2="634.28" stroke="#444" stroke-width="0.6"/>
<line x1="736.5" y1="662.4" x2="668.87" y2="601.51" stroke="#444" stroke-width="0.6"/>
<line x1="736.5" y1="662.4" x2="699.49" y2="579.27" stroke="#444" stroke-width="0.6"/>
<text x="726.54" y="620.01" font-size="8.3" text-anchor="middle" font-weight="normal" fill="#747474">6.50</text>
<text x="726.54" y="642.76" font-size="8.3" text-anchor="middle" font-weight="normal" fill="#747474">6.25</text>
<text x="726.54" y="665.51" font-size="8.3" text-anchor="middle" font-weight="normal" fill="#747474">6.00</text>
<text x="748.16" y="618.43" font-size="8.3" text-anchor="middle" font-weight="normal" fill="#747474">16</text>
<text x="738.9" y="639.22" font-size="8.3" text-anchor="middle" font-weight="normal" fill="#747474">12</text>
<text x="731.73" y="660" font-size="8.3" text-anchor="middle" font-weight="normal" fill="#747474">8</text>
<text x="762.43" y="628.5" font-size="8.3" text-anchor="middle" font-weight="normal" fill="#747474">1.8</text>
<text x="745.52" y="643.72" font-size="8.3" text-anchor="middle" font-weight="normal" fill="#747474">1.5</text>
<text x="728.61" y="658.95" font-size="8.3" text-anchor="middle" font-weight="normal" fill="#747474">1.2</text>
<text x="779.77" y="644.55" font-size="8.3" text-anchor="middle" font-weight="normal" fill="#747474">0.60</text>
<text x="758.14" y="651.58" font-size="8.3" text-anchor="middle" font-weight="normal" fill="#747474">0.45</text>
<text x="736.5" y="658.61" font-size="8.3" text-anchor="middle" font-weight="normal" fill="#747474">0.30</text>
<text x="781.75" y="663.36" font-size="8.3" text-anchor="middle" font-weight="normal" fill="#747474">20.0</text>
<text x="759.13" y="660.98" font-size="8.3" text-anchor="middle" font-weight="normal" fill="#747474">17.5</text>
<text x="736.5" y="658.61" font-size="8.3" text-anchor="middle" font-weight="normal" fill="#747474">15.0</text>
<text x="784.83" y="681.5" font-size="8.3" text-anchor="middle" font-weight="normal" fill="#747474">200</text>
<text x="765.13" y="670.12" font-size="8.3" text-anchor="middle" font-weight="normal" fill="#747474">160</text>
<text x="745.42" y="658.75" font-size="8.3" text-anchor="middle" font-weight="normal" fill="#747474">120</text>
<text x="770.09" y="695.98" font-size="8.3" text-anchor="middle" font-weight="normal" fill="#747474">90</text>
<text x="756.72" y="677.57" font-size="8.3" text-anchor="middle" font-weight="normal" fill="#747474">75</text>
<text x="743.35" y="659.17" font-size="8.3" text-anchor="middle" font-weight="normal" fill="#747474">60</text>
<text x="752.81" y="709.6" font-size="8.3" text-anchor="middle" font-weight="normal" fill="#747474">30</text>
<text x="748.08" y="687.35" font-size="8.3" text-anchor="middle" font-weight="normal" fill="#747474">15</text>
<text x="741.27" y="665.1" font-size="8.3" text-anchor="middle" font-weight="normal" fill="#747474">0</text>
<text x="735.97" y="710.47" font-size="8.3" text-anchor="middle" font-weight="normal" fill="#747474">135</text>
<text x="740.7" y="688.22" font-size="8.3" text-anchor="middle" font-weight="normal" fill="#747474">120</text>
<text x="745.42" y="665.97" font-size="8.3" text-anchor="middle" font-weight="normal" fill="#747474">105</text>
<text x="725.43" y="697.29" font-size="8.3" text-anchor="middle" font-weight="normal" fill="#747474">90</text>
<text x="738.8" y="678.88" font-size="8.3" text-anchor="middle" font-weight="normal" fill="#747474">75</text>
<text x="710.64" y="691.98" font-size="8.3" text-anchor="middle" font-weight="normal" fill="#747474">15</text>
<text x="730.35" y="680.6" font-size="8.3" text-anchor="middle" font-weight="normal" fill="#747474">12</text>
<text x="702.11" y="676.87" font-size="8.3" text-anchor="middle" font-weight="normal" fill="#747474">24</text>
<text x="724.73" y="674.49" font-size="8.3" text-anchor="middle" font-weight="normal" fill="#747474">20</text>
<text x="693.23" y="659.2" font-size="8.3" text-anchor="middle" font-weight="normal" fill="#747474">100</text>
<text x="714.86" y="666.23" font-size="8.3" text-anchor="middle" font-weight="normal" fill="#747474">75</text>
<text x="736.5" y="673.26" font-size="8.3" text-anchor="middle" font-weight="normal" fill="#747474">50</text>
<text x="695.84" y="642.43" font-size="8.3" text-anchor="middle" font-weight="normal" fill="#747474">40</text>
<text x="712.74" y="657.65" font-size="8.3" text-anchor="middle" font-weight="normal" fill="#747474">20</text>
<text x="731.73" y="672.87" font-size="8.3" text-anchor="middle" font-weight="normal" fill="#747474">0</text>
<text x="709.07" y="630.12" font-size="8.3" text-anchor="middle" font-weight="normal" fill="#747474">200</text>
<text x="718.32" y="650.9" font-size="8.3" text-anchor="middle" font-weight="normal" fill="#747474">150</text>
<text x="727.58" y="671.69" font-size="8.3" text-anchor="middle" font-weight="normal" fill="#747474">100</text>
</g>
<text x="736.2" y="560.5" font-size="12.5" text-anchor="middle" font-weight="bold" fill="#000">pH</text>
<text x="791" y="568.2" font-size="12.5" text-anchor="middle" font-weight="bold" fill="#000">SOC</text>
<text x="820.6" y="592.5" font-size="12.5" text-anchor="middle" font-weight="bold" fill="#000">TN</text>
<text x="839.9" y="635.9" font-size="12.5" text-anchor="middle" font-weight="bold" fill="#000">TP</text>
<text x="846.5" y="677.4" font-size="12.5" text-anchor="middle" font-weight="bold" fill="#000">TK</text>
<text x="838.3" y="724.8" font-size="12.5" text-anchor="middle" font-weight="bold" fill="#000">DOC</text>
<text x="809.9" y="755.7" font-size="12.5" text-anchor="middle" font-weight="bold" fill="#000">AVN</text>
<text x="757.4" y="772.7" font-size="12.5" text-anchor="middle" font-weight="bold" fill="#000">AVP</text>
<text x="715.5" y="772.7" font-size="12.5" text-anchor="middle" font-weight="bold" fill="#000">AVK</text>
<text x="663" y="754.8" font-size="12.5" text-anchor="middle" font-weight="bold" fill="#000">MBC</text>
<text x="635.3" y="724" font-size="12.5" text-anchor="middle" font-weight="bold" fill="#000">MBN</text>
<text x="623.5" y="677.2" font-size="12.5" text-anchor="middle" font-weight="bold" fill="#000">MBP</text>
<text x="632.3" y="635.7" font-size="12.5" text-anchor="middle" font-weight="bold" fill="#000">BG</text>
<text x="632.5" y="592.3" font-size="12.5" text-anchor="middle" font-weight="bold" fill="#000">NAG+LAP</text>
<text x="687.5" y="568.1" font-size="12.5" text-anchor="middle" font-weight="bold" fill="#000">AP</text>
</g>
<rect x="872.3" y="349.7" width="41.6" height="19.3" fill="#397ec3" fill-opacity="0.6"/>
<text x="916.8" y="364" font-size="13" text-anchor="start" font-weight="bold" fill="#000">CT</text>
<rect x="872.3" y="373.4" width="41.6" height="19.3" fill="#f0ac49" fill-opacity="0.6"/>
<text x="916.8" y="387.7" font-size="13" text-anchor="start" font-weight="bold" fill="#000">SCT</text>
<rect x="872.3" y="397.1" width="41.6" height="19.3" fill="#da4e4e" fill-opacity="0.6"/>
<text x="916.8" y="411.4" font-size="13" text-anchor="start" font-weight="bold" fill="#000">DT</text>
<rect x="872.3" y="420.8" width="41.6" height="19.3" fill="#5ab657" fill-opacity="0.6"/>
<text x="916.8" y="435.1" font-size="13" text-anchor="start" font-weight="bold" fill="#000">SDT</text>
</svg>
</body>
</html>
